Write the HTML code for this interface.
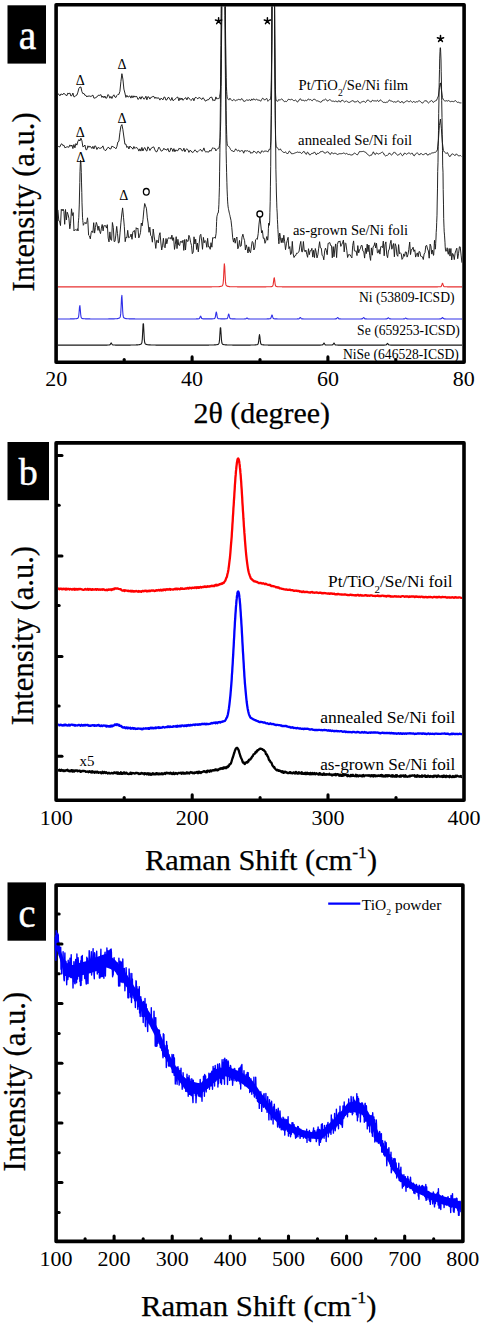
<!DOCTYPE html>
<html><head><meta charset="utf-8"><title>figure</title>
<style>
html,body{margin:0;padding:0;background:#fff;width:484px;height:1324px;overflow:hidden}
svg{display:block}
text{font-family:"Liberation Serif",serif}
</style></head><body>
<svg width="484" height="1324" viewBox="0 0 484 1324">
<clipPath id="ca"><rect x="57.9" y="6.6" width="404.3" height="353.9"/></clipPath>
<g clip-path="url(#ca)" fill="none" stroke-linejoin="round">
<polyline points="57.9,93.8 58.9,94.3 59.9,95.8 60.9,94.0 61.9,94.3 62.9,94.6 63.9,93.1 64.9,94.5 65.9,95.0 66.9,95.7 67.9,93.0 68.9,93.8 69.9,93.0 70.9,96.0 71.9,95.6 72.9,93.0 73.9,96.8 74.9,96.7 75.9,95.4 76.9,95.1 77.9,92.2 78.9,88.4 79.9,87.1 80.9,87.0 81.9,91.6 82.9,93.7 83.9,93.4 84.9,95.3 85.9,95.3 86.9,97.0 87.9,95.8 88.9,96.4 89.9,95.9 90.9,96.6 91.9,95.8 92.9,95.1 93.9,98.1 94.9,98.1 95.9,97.5 96.9,97.0 97.9,95.5 98.9,95.2 99.9,95.4 100.9,94.6 101.9,97.4 102.9,96.0 103.9,97.8 104.9,96.0 105.9,98.3 106.9,97.9 107.9,94.5 108.9,95.4 109.9,98.2 110.9,96.4 111.9,98.5 112.9,96.1 113.9,94.8 114.9,97.0 115.9,97.5 116.9,95.4 117.9,94.4 118.9,94.4 119.9,91.4 120.9,81.6 121.9,73.7 122.9,79.1 123.9,89.1 124.9,93.0 125.9,97.4 126.9,95.3 127.9,97.0 128.9,96.7 129.9,95.8 130.9,98.1 131.9,95.7 132.9,97.8 133.9,95.8 134.9,97.1 135.9,96.3 136.9,96.6 137.9,99.4 138.9,98.8 139.9,96.8 140.9,99.2 141.9,96.5 142.9,97.3 143.9,99.2 144.9,98.4 145.9,96.2 146.9,99.8 147.9,96.7 148.9,97.0 149.9,99.1 150.9,97.3 151.9,97.2 152.9,96.4 153.9,96.5 154.9,98.5 155.9,97.1 156.9,98.6 157.9,97.7 158.9,98.1 159.9,100.1 160.9,98.3 161.9,98.7 162.9,99.9 163.9,97.2 164.9,97.1 165.9,100.1 166.9,99.8 167.9,97.6 168.9,97.4 169.9,99.6 170.9,100.4 171.9,97.5 172.9,100.5 173.9,100.3 174.9,99.2 175.9,98.5 176.9,97.3 177.9,97.1 178.9,100.8 179.9,97.9 180.9,99.8 181.9,98.0 182.9,100.3 183.9,99.4 184.9,98.2 185.9,97.7 186.9,99.9 187.9,97.3 188.9,98.0 189.9,99.3 190.9,100.5 191.9,99.6 192.9,98.2 193.9,100.8 194.9,97.9 195.9,97.2 196.9,98.2 197.9,98.9 198.9,97.4 199.9,97.9 200.9,98.6 201.9,99.5 202.9,97.7 203.9,98.6 204.9,100.7 205.9,101.1 206.9,99.8 207.9,99.9 208.9,99.5 209.9,97.7 210.9,97.3 211.9,97.2 212.9,100.7 213.9,99.8 214.9,100.7 215.9,96.9 216.9,99.1 217.2,98.9 217.4,98.7 217.7,98.5 217.9,98.3 218.2,98.4 218.4,98.6 218.7,98.7 218.9,98.8 219.2,98.2 219.4,97.4 219.7,96.3 219.9,94.7 220.2,93.2 220.4,90.3 220.7,85.0 220.9,76.4 221.2,60.8 221.4,41.2 221.7,15.3 221.9,-16.8 222.2,-53.7 222.4,-93.4 222.7,-132.4 222.9,-166.4 223.2,-191.5 223.4,-204.2 223.7,-202.7 223.9,-187.2 224.2,-159.9 224.4,-124.4 224.7,-84.8 224.9,-45.3 225.2,-9.2 225.4,21.5 225.7,45.9 225.9,64.0 226.2,77.5 226.4,86.1 226.7,91.5 226.9,94.7 227.2,96.7 227.4,97.9 227.7,98.6 227.9,99.0 228.2,99.3 228.4,99.6 228.7,99.9 228.9,100.1 229.2,99.6 229.4,99.1 229.7,98.6 229.9,98.1 230.2,98.5 230.4,98.9 230.7,99.3 231.7,100.4 232.7,100.7 233.7,99.4 234.7,100.1 235.7,100.8 236.7,100.0 237.7,99.9 238.7,99.3 239.7,99.7 240.7,100.0 241.7,98.5 242.7,99.6 243.7,101.3 244.7,101.3 245.7,100.8 246.7,99.6 247.7,100.3 248.7,100.2 249.7,99.7 250.7,100.8 251.7,98.9 252.7,100.2 253.7,98.7 254.7,99.7 255.7,99.9 256.6,99.0 257.6,100.2 258.6,100.1 259.6,100.2 260.6,101.3 261.6,99.6 262.6,98.2 263.6,98.8 264.6,100.2 265.6,99.1 266.6,98.5 266.9,98.5 267.1,99.2 267.4,99.9 267.6,100.6 267.9,101.3 268.1,101.1 268.4,100.8 268.6,100.5 268.9,100.2 269.1,99.9 269.4,99.7 269.6,99.4 269.9,99.1 270.1,99.3 270.4,99.4 270.6,98.9 270.9,95.9 271.1,90.9 271.4,80.8 271.6,62.5 271.9,33.1 272.1,-9.0 272.4,-61.7 272.6,-118.2 272.9,-167.3 273.1,-197.6 273.4,-200.6 273.6,-175.6 273.9,-129.4 274.1,-73.2 274.4,-18.9 274.6,25.7 274.9,57.7 275.1,77.9 275.4,89.3 275.6,95.1 275.9,98.8 276.1,100.0 276.4,100.6 276.6,100.9 276.9,101.1 277.1,101.2 277.4,101.2 277.6,101.2 277.9,101.3 278.1,100.8 278.4,100.3 278.6,99.9 278.9,99.4 279.1,99.6 279.4,99.9 279.6,100.1 279.9,100.3 280.1,100.1 280.4,99.8 281.4,99.0 282.4,99.4 283.4,100.8 284.4,101.6 285.4,101.3 286.4,101.6 287.4,100.7 288.4,99.2 289.4,99.5 290.4,99.8 291.4,99.3 292.4,99.6 293.4,100.5 294.4,100.6 295.4,100.0 296.4,100.7 297.4,102.1 298.4,101.3 299.4,99.5 300.4,98.7 301.4,100.3 302.4,100.3 303.4,100.0 304.4,101.1 305.4,100.3 306.4,100.7 307.4,100.2 308.4,98.9 309.4,99.8 310.4,99.5 311.4,100.3 312.4,100.7 313.4,99.4 314.4,99.0 315.4,100.0 316.4,100.8 317.4,100.8 318.4,101.2 319.4,101.6 320.4,102.2 321.4,102.0 322.4,100.5 323.4,100.1 324.4,100.0 325.4,99.1 326.4,99.7 327.4,101.1 328.4,100.5 329.4,99.7 330.4,100.0 331.4,100.9 332.4,101.2 333.4,101.1 334.4,101.6 335.4,101.1 336.4,101.2 337.4,102.2 338.4,100.8 339.4,100.9 340.4,102.2 341.4,100.6 342.4,100.1 343.4,101.1 344.4,102.0 345.4,101.5 346.4,100.8 347.4,101.8 348.4,102.3 349.4,102.4 350.4,101.8 351.4,101.2 352.4,100.7 353.4,100.8 354.4,102.1 355.4,101.9 356.4,101.7 357.4,100.9 358.4,101.3 359.4,102.8 360.4,103.0 361.4,102.1 362.4,101.7 363.4,101.3 364.4,101.5 365.4,102.6 366.4,101.5 367.4,100.0 368.4,100.2 369.4,101.1 370.4,101.8 371.4,101.7 372.4,100.2 373.4,100.8 374.4,100.9 375.4,100.9 376.4,101.1 377.4,100.2 378.4,101.5 379.4,101.1 380.4,99.8 381.4,100.6 382.4,101.7 383.4,102.4 384.4,102.3 385.4,102.6 386.4,102.2 387.4,102.2 388.4,101.4 389.4,99.9 390.4,100.8 391.4,101.0 392.4,101.4 393.4,102.1 394.4,101.7 395.4,102.1 396.4,102.2 397.4,101.1 398.4,100.8 399.4,101.9 400.4,102.9 401.4,101.6 402.4,101.6 403.4,103.1 404.4,102.4 405.4,101.7 406.4,101.0 407.4,100.9 408.4,101.6 409.4,101.7 410.4,100.8 411.4,101.5 412.4,102.5 413.4,101.4 414.4,101.9 415.4,102.3 416.4,101.7 417.4,101.9 418.4,101.1 419.4,100.8 420.4,101.5 421.4,102.3 422.4,103.3 423.4,102.0 424.4,101.1 425.4,100.8 426.4,100.7 427.4,102.1 428.4,103.0 429.4,102.3 430.4,101.1 431.4,100.5 432.4,101.1 433.4,102.5 434.4,101.4 435.4,100.9 436.4,100.5 437.4,98.4 438.4,96.0 439.4,87.6 440.4,82.9 441.4,89.4 442.4,97.5 443.4,99.8 444.4,100.7 445.4,101.0 446.4,100.7 447.4,101.1 448.4,100.5 449.4,101.1 450.4,101.7 451.4,101.4 452.4,101.4 453.4,101.7 454.4,101.2 455.4,100.6 456.4,101.5 457.4,102.4 458.4,102.2 459.4,102.7 460.4,102.9 461.4,102.9" stroke="#1a1a1a" stroke-width="0.95"/>
<polyline points="57.9,145.8 58.9,146.8 59.9,146.9 60.9,144.4 61.9,143.8 62.9,145.6 63.9,145.2 64.9,147.8 65.9,147.3 66.9,146.9 67.9,146.8 68.9,147.3 69.9,144.9 70.9,146.3 71.9,145.0 72.9,148.6 73.9,144.5 74.9,147.8 75.9,143.6 76.9,145.1 77.9,141.3 78.9,139.6 79.9,141.0 80.9,138.2 81.9,140.7 82.9,146.9 83.9,146.3 84.9,145.0 85.9,149.7 86.9,149.7 87.9,145.8 88.9,147.4 89.9,146.1 90.9,147.0 91.9,148.5 92.9,146.3 93.9,148.9 94.9,145.8 95.9,146.4 96.9,149.5 97.9,147.6 98.9,147.7 99.9,148.5 100.9,148.0 101.9,147.5 102.9,145.9 103.9,149.2 104.9,150.4 105.9,150.4 106.9,148.9 107.9,147.4 108.9,147.5 109.9,149.0 110.9,148.9 111.9,146.1 112.9,146.7 113.9,147.2 114.9,147.7 115.9,148.8 116.9,146.5 117.9,142.0 118.9,141.2 119.9,132.6 120.9,126.3 121.9,124.6 122.9,129.7 123.9,137.0 124.9,144.2 125.9,144.1 126.9,147.5 127.9,146.3 128.9,149.0 129.9,146.0 130.9,147.3 131.9,147.7 132.9,149.2 133.9,146.5 134.9,148.5 135.9,147.4 136.9,147.8 137.9,148.7 138.9,151.1 139.9,148.8 140.9,151.1 141.9,147.4 142.9,151.0 143.9,148.4 144.9,147.6 145.9,150.3 146.9,151.1 147.9,146.8 148.9,148.1 149.9,150.5 150.9,148.5 151.9,148.0 152.9,146.9 153.9,147.1 154.9,149.9 155.9,151.7 156.9,151.8 157.9,149.4 158.9,147.1 159.9,148.6 160.9,150.8 161.9,151.1 162.9,150.2 163.9,148.2 164.9,149.7 165.9,149.4 166.9,150.2 167.9,148.4 168.9,151.7 169.9,151.5 170.9,148.0 171.9,148.7 172.9,151.5 173.9,148.6 174.9,151.8 175.9,149.8 176.9,150.7 177.9,150.7 178.9,148.4 179.9,148.8 180.9,148.6 181.9,150.7 182.9,150.8 183.9,148.2 184.9,151.8 185.9,149.6 186.9,148.8 187.9,149.7 188.9,152.4 189.9,150.4 190.9,150.7 191.9,152.2 192.9,152.4 193.9,151.5 194.9,149.8 195.9,150.7 196.9,152.2 197.9,151.7 198.9,150.7 199.9,149.6 200.9,149.7 201.9,151.4 202.9,150.6 203.9,147.9 204.9,151.2 205.9,152.1 206.9,151.6 207.9,152.0 208.9,152.0 209.9,150.1 210.9,151.2 211.9,149.1 212.9,147.6 213.9,148.6 214.9,148.2 215.9,150.9 216.9,149.4 217.2,149.2 217.4,148.9 217.7,148.6 217.9,148.4 218.2,148.4 218.4,148.3 218.7,148.3 218.9,148.1 219.2,147.1 219.4,145.7 219.7,143.8 219.9,140.9 220.2,137.4 220.4,131.5 220.7,121.9 220.9,107.5 221.2,86.5 221.4,58.4 221.7,22.8 221.9,-19.7 222.2,-67.7 222.4,-117.7 222.7,-165.8 222.9,-207.1 223.2,-237.0 223.4,-252.1 223.7,-250.4 223.9,-232.2 224.2,-199.7 224.4,-156.7 224.7,-107.9 224.9,-58.0 225.2,-11.0 225.4,30.4 225.7,64.5 225.9,91.1 226.2,110.6 226.4,124.8 226.7,134.5 226.9,140.8 227.2,143.8 227.4,145.2 227.7,145.8 227.9,145.8 228.2,146.2 228.4,146.4 228.7,146.5 228.9,146.5 229.2,146.9 229.4,147.3 229.7,147.7 229.9,148.1 230.2,148.6 230.4,149.2 230.7,149.7 231.7,150.8 232.7,150.8 233.7,152.0 234.7,150.5 235.7,148.8 236.7,150.3 237.7,150.9 238.7,150.0 239.7,151.6 240.7,151.1 241.7,150.5 242.7,150.8 243.7,153.2 244.7,150.6 245.7,150.8 246.7,151.0 247.7,150.7 248.7,151.5 249.7,151.1 250.7,153.3 251.7,152.7 252.7,152.9 253.7,151.1 254.7,151.6 255.7,152.4 256.6,153.4 257.6,151.5 258.6,151.4 259.6,153.0 260.6,153.3 261.6,150.9 262.6,151.2 263.6,152.1 264.6,150.9 265.6,151.1 266.6,151.1 266.9,151.0 267.1,151.3 267.4,151.5 267.6,151.8 267.9,152.1 268.1,151.5 268.4,150.9 268.6,150.2 268.9,149.6 269.1,149.7 269.4,149.7 269.6,149.7 269.9,149.7 270.1,148.9 270.4,147.6 270.6,145.2 270.9,140.9 271.1,132.0 271.4,115.5 271.6,87.6 271.9,45.4 272.1,-11.9 272.4,-80.2 272.6,-150.6 272.9,-210.3 273.1,-246.0 273.4,-249.3 273.6,-219.5 273.9,-163.7 274.1,-94.6 274.4,-25.1 274.6,34.8 274.9,80.1 275.1,110.7 275.4,129.3 275.6,139.6 275.9,144.0 276.1,146.2 276.4,147.0 276.6,147.3 276.9,147.3 277.1,147.6 277.4,147.8 277.6,148.0 277.9,148.2 278.1,148.7 278.4,149.2 278.6,149.7 278.9,150.2 279.1,150.0 279.4,149.7 279.6,149.5 279.9,149.2 280.1,149.1 280.4,148.9 281.4,150.6 282.4,151.5 283.4,152.0 284.4,153.0 285.4,151.8 286.4,152.7 287.4,154.0 288.4,152.8 289.4,151.0 290.4,151.9 291.4,153.7 292.4,153.7 293.4,153.6 294.4,153.2 295.4,152.8 296.4,152.5 297.4,152.0 298.4,152.4 299.4,152.3 300.4,152.4 301.4,153.5 302.4,152.9 303.4,151.5 304.4,151.7 305.4,153.6 306.4,154.3 307.4,152.1 308.4,152.8 309.4,154.8 310.4,154.8 311.4,153.6 312.4,153.4 313.4,153.3 314.4,151.9 315.4,153.2 316.4,154.9 317.4,153.3 318.4,153.5 319.4,153.0 320.4,151.7 321.4,151.6 322.4,151.3 323.4,151.7 324.4,153.0 325.4,153.3 326.4,152.1 327.4,151.8 328.4,152.1 329.4,153.8 330.4,154.5 331.4,152.7 332.4,152.8 333.4,153.9 334.4,153.3 335.4,153.3 336.4,153.8 337.4,154.5 338.4,154.1 339.4,153.7 340.4,153.7 341.4,153.7 342.4,153.5 343.4,153.0 344.4,153.3 345.4,154.0 346.4,153.4 347.4,154.0 348.4,154.5 349.4,154.3 350.4,154.8 351.4,155.0 352.4,155.0 353.4,153.8 354.4,153.1 355.4,153.5 356.4,154.4 357.4,154.9 358.4,153.5 359.4,151.6 360.4,151.6 361.4,151.6 362.4,151.5 363.4,151.3 364.4,151.8 365.4,152.0 366.4,153.1 367.4,154.3 368.4,155.0 369.4,155.8 370.4,155.3 371.4,155.3 372.4,153.6 373.4,151.8 374.4,154.0 375.4,154.6 376.4,152.9 377.4,153.5 378.4,154.1 379.4,153.6 380.4,153.3 381.4,152.6 382.4,152.1 383.4,152.9 384.4,155.0 385.4,155.9 386.4,155.5 387.4,155.4 388.4,154.4 389.4,152.9 390.4,154.2 391.4,155.0 392.4,154.4 393.4,152.9 394.4,151.9 395.4,153.0 396.4,154.2 397.4,155.1 398.4,155.1 399.4,154.0 400.4,153.1 401.4,154.4 402.4,155.8 403.4,155.0 404.4,153.1 405.4,153.4 406.4,154.3 407.4,153.7 408.4,153.0 409.4,153.1 410.4,154.0 411.4,153.4 412.4,153.3 413.4,155.3 414.4,155.8 415.4,154.1 416.4,153.3 417.4,153.0 418.4,153.8 419.4,155.1 420.4,153.7 421.4,153.5 422.4,154.6 423.4,154.7 424.4,154.1 425.4,153.5 426.4,153.4 427.4,155.1 428.4,155.0 429.4,153.8 430.4,154.0 431.4,153.2 432.4,152.9 433.4,152.8 434.4,152.4 435.4,152.3 436.4,151.5 437.4,149.9 438.4,140.4 439.4,125.5 440.4,119.0 441.4,128.7 442.4,142.7 443.4,150.7 444.4,152.0 445.4,152.9 446.4,153.3 447.4,152.6 448.4,154.5 449.4,156.5 450.4,156.3 451.4,154.4 452.4,153.9 453.4,154.3 454.4,155.3 455.4,155.3 456.4,153.8 457.4,154.8 458.4,155.9 459.4,155.8 460.4,155.5 461.4,156.4" stroke="#1a1a1a" stroke-width="0.95"/>
<polyline points="57.9,209.9 58.8,220.9 59.6,221.1 60.5,225.6 61.3,209.3 62.2,210.8 63.0,209.0 63.9,211.3 64.7,224.3 65.5,209.5 66.4,219.9 67.2,212.2 68.1,214.6 68.9,218.3 69.8,228.8 70.6,223.3 71.5,208.8 72.3,215.6 73.2,212.6 74.0,231.0 74.3,230.6 74.5,230.2 74.8,229.8 75.0,229.7 75.3,229.7 75.5,229.8 75.8,229.8 76.0,230.0 76.3,230.2 76.5,230.4 76.8,229.9 77.0,229.3 77.3,228.7 77.5,228.8 77.8,230.1 78.0,231.0 78.3,223.1 78.5,220.8 78.8,217.3 79.0,212.0 79.3,204.1 79.5,194.0 79.8,182.6 80.0,171.6 80.3,164.2 80.5,160.3 80.8,161.0 81.0,165.0 81.3,172.5 81.5,182.1 81.8,192.6 82.0,202.8 82.3,211.1 82.5,217.2 82.8,220.6 83.0,222.6 83.3,225.3 83.5,224.9 83.8,224.4 84.0,223.7 84.3,223.1 84.5,222.8 84.8,222.5 85.0,222.2 85.3,222.7 85.5,223.3 85.8,223.9 86.0,224.0 86.3,223.3 86.5,222.6 86.8,221.8 87.0,220.5 87.3,219.2 87.5,217.8 87.8,220.5 88.6,235.2 89.5,236.0 90.3,238.9 91.2,232.6 92.0,230.9 92.9,232.6 93.7,222.7 94.6,233.1 95.4,227.5 96.3,222.4 97.1,224.7 98.0,230.4 98.8,226.1 99.7,231.3 100.5,233.6 101.4,228.2 102.2,224.5 103.1,230.9 103.9,225.7 104.8,225.7 105.6,225.7 106.5,228.1 107.3,224.7 108.2,238.1 109.0,241.9 109.9,231.9 110.7,239.7 111.6,240.3 112.4,222.5 113.3,227.5 114.1,241.5 115.0,241.3 115.8,235.1 116.7,226.4 117.5,233.6 118.4,243.0 119.2,242.5 120.1,232.2 120.9,222.8 121.8,214.0 122.6,207.9 123.5,217.3 124.3,226.3 125.2,241.7 126.0,237.1 126.9,237.7 127.7,230.3 128.6,237.7 129.4,237.3 130.3,236.7 131.1,234.0 132.0,239.3 132.8,232.2 133.7,230.9 134.5,230.5 135.4,237.7 136.2,227.7 137.1,229.0 137.9,228.2 138.8,237.9 139.6,235.8 140.5,232.6 141.3,223.0 142.2,225.8 143.0,219.5 143.9,209.7 144.7,203.5 145.6,206.2 146.4,208.2 147.3,217.8 148.1,223.1 149.0,232.3 149.8,227.2 150.7,235.4 151.5,236.3 152.4,242.2 153.2,229.0 154.1,236.1 154.9,241.2 155.8,248.4 156.6,240.3 157.5,240.6 158.3,243.0 159.2,235.4 160.0,232.7 160.9,243.0 161.7,250.0 162.6,245.2 163.4,238.3 164.3,246.9 165.1,247.8 166.0,238.5 166.8,243.8 167.7,239.3 168.5,237.7 169.4,238.3 170.2,237.5 171.1,239.2 171.9,235.1 172.8,240.5 173.6,237.7 174.5,249.4 175.3,244.4 176.2,236.7 177.0,248.6 177.9,239.3 178.7,245.0 179.6,245.6 180.4,241.5 181.3,241.3 182.1,242.8 183.0,240.2 183.8,250.4 184.7,239.5 185.5,250.0 186.4,239.4 187.2,241.2 188.1,241.3 188.9,235.3 189.8,237.8 190.6,242.3 191.5,245.4 192.3,253.7 193.2,252.1 194.0,236.8 194.9,244.0 195.7,239.2 196.6,249.5 197.4,243.0 198.3,251.9 199.1,243.8 200.0,235.7 200.8,234.3 201.7,241.0 202.5,249.3 203.4,237.4 204.2,242.8 205.1,240.5 205.9,241.6 206.8,247.3 207.6,238.3 208.5,246.9 209.3,246.6 210.2,249.3 211.0,242.7 211.9,247.2 212.7,237.6 213.6,238.1 214.4,237.2 215.3,238.3 216.1,233.4 216.4,227.5 216.6,221.6 216.9,216.7 217.1,215.8 217.4,214.8 217.6,213.4 217.9,213.4 218.1,213.2 218.4,212.0 218.6,209.3 218.9,204.3 219.1,197.3 219.4,187.8 219.6,171.8 219.9,152.5 220.1,129.8 220.4,103.9 220.6,76.2 220.9,45.6 221.1,13.6 221.4,-18.0 221.6,-49.0 221.9,-77.7 222.1,-104.5 222.4,-126.4 222.6,-141.9 222.9,-149.8 223.1,-149.5 223.4,-141.5 223.6,-126.3 223.9,-104.7 224.1,-78.2 224.4,-48.2 224.6,-16.5 224.9,15.5 225.1,46.5 225.4,75.6 225.6,99.2 225.9,126.4 226.1,150.2 226.4,163.7 226.6,172.3 226.9,182.7 227.1,189.9 227.4,196.2 227.6,201.1 227.9,204.8 228.1,206.9 228.4,208.5 228.6,209.8 228.9,210.9 229.1,212.1 229.4,213.2 229.6,214.4 229.9,215.3 230.1,216.4 231.0,220.4 231.8,227.5 232.7,237.8 233.5,242.1 234.4,238.0 235.2,243.2 236.1,238.6 236.9,237.0 237.8,248.8 238.6,247.1 239.5,240.4 240.3,246.4 241.2,245.9 242.0,237.1 242.9,234.2 243.7,237.8 244.6,240.7 245.4,250.0 246.3,244.9 247.1,248.2 248.0,253.0 248.8,246.8 249.7,251.6 250.5,252.7 251.4,246.9 252.2,241.5 253.1,242.4 253.9,250.0 254.8,247.9 255.6,239.7 256.5,238.8 257.3,239.4 258.2,233.6 259.0,224.1 259.9,216.8 260.7,224.0 261.6,232.9 262.4,230.6 263.3,238.3 264.1,237.9 265.0,243.3 265.8,241.1 266.7,236.9 266.9,236.5 267.2,237.5 267.4,238.9 267.7,240.2 267.9,238.9 268.2,233.9 268.4,228.7 268.7,223.2 268.9,224.7 269.2,225.4 269.4,225.1 269.7,220.8 269.9,212.7 270.2,201.7 270.4,186.8 270.7,166.7 270.9,141.4 271.2,112.0 271.4,78.6 271.7,41.4 271.9,2.0 272.2,-38.2 272.4,-76.7 272.7,-109.1 272.9,-132.5 273.2,-142.0 273.4,-139.4 273.7,-124.8 273.9,-101.0 274.2,-69.8 274.4,-33.1 274.7,6.6 274.9,47.8 275.2,86.3 275.4,120.6 275.7,148.0 275.9,169.2 276.2,182.5 276.4,193.0 276.7,202.1 276.9,208.5 277.2,212.9 277.4,219.3 277.7,224.8 277.9,229.5 278.2,233.8 278.4,237.8 278.7,241.6 278.9,243.8 279.2,240.3 279.4,236.7 279.7,233.0 279.9,234.0 280.2,236.0 280.4,238.1 281.3,242.7 282.1,237.9 283.0,242.7 283.8,235.2 284.7,241.8 285.5,249.7 286.4,243.8 287.2,240.5 288.1,237.3 288.9,248.7 289.8,246.6 290.6,254.6 291.5,253.5 292.3,241.4 293.2,253.9 294.0,257.5 294.9,255.7 295.7,255.6 296.6,253.1 297.4,253.3 298.3,252.6 299.1,251.1 300.0,244.9 300.8,241.4 301.7,251.7 302.5,251.8 303.4,241.5 304.2,250.1 305.1,251.8 305.9,250.0 306.8,254.4 307.6,257.3 308.5,248.7 309.3,254.7 310.2,250.7 311.1,250.8 311.9,248.3 312.8,257.1 313.6,250.3 314.5,257.6 315.3,248.5 316.2,252.2 317.0,257.9 317.9,254.7 318.7,248.2 319.6,241.7 320.4,247.8 321.3,248.2 322.1,255.2 323.0,256.2 323.8,259.8 324.7,250.8 325.5,248.1 326.4,250.8 327.2,254.7 328.1,243.3 328.9,243.2 329.8,242.5 330.6,245.5 331.5,245.7 332.3,257.8 333.2,246.6 334.0,256.8 334.9,248.1 335.7,243.9 336.6,257.6 337.4,244.5 338.3,241.5 339.1,241.9 340.0,240.9 340.8,246.4 341.7,244.5 342.5,242.9 343.4,240.1 344.2,251.9 345.1,242.8 345.9,243.6 346.8,250.4 347.6,257.5 348.5,254.7 349.3,254.7 350.2,254.8 351.0,256.5 351.9,257.9 352.7,245.5 353.6,240.9 354.4,250.8 355.3,251.2 356.1,250.8 357.0,255.6 357.8,245.6 358.7,252.9 359.5,249.9 360.4,248.7 361.2,245.5 362.1,245.5 362.9,251.1 363.8,251.8 364.6,258.1 365.5,248.1 366.3,253.6 367.2,244.1 368.0,251.7 368.9,245.0 369.7,255.7 370.6,260.4 371.4,247.9 372.3,255.2 373.1,246.7 374.0,246.0 374.8,242.7 375.7,248.0 376.5,243.2 377.4,252.8 378.2,252.8 379.1,249.5 379.9,254.1 380.8,246.6 381.6,246.6 382.5,247.6 383.3,241.1 384.2,255.8 385.0,244.7 385.9,241.9 386.7,254.6 387.6,257.7 388.4,251.0 389.3,249.1 390.1,243.9 391.0,240.3 391.8,249.2 392.7,246.2 393.5,243.5 394.4,256.8 395.2,243.7 396.1,246.4 396.9,254.8 397.8,256.3 398.6,244.6 399.5,253.7 400.3,252.9 401.2,253.5 402.0,259.4 402.9,258.1 403.7,253.9 404.6,256.3 405.4,251.9 406.3,252.0 407.1,257.1 408.0,254.5 408.8,249.4 409.7,242.0 410.5,254.6 411.4,249.5 412.2,249.4 413.1,247.2 413.9,251.5 414.8,249.8 415.6,257.1 416.5,254.4 417.3,252.9 418.2,256.8 419.0,251.5 419.9,251.9 420.7,256.2 421.6,256.5 422.4,256.8 423.3,259.5 424.1,254.0 425.0,252.6 425.8,245.9 426.7,245.4 427.5,249.0 428.4,250.9 429.2,258.2 430.1,244.1 430.9,246.1 431.8,254.1 432.6,250.1 433.5,255.4 433.7,254.9 434.0,250.1 434.2,245.3 434.5,240.3 434.7,243.5 435.0,246.5 435.2,249.2 435.5,247.8 435.7,243.3 436.0,238.0 436.2,232.4 436.5,228.1 436.7,222.4 437.0,215.2 437.2,203.0 437.5,188.1 437.7,171.6 438.0,162.3 438.2,146.7 438.5,130.3 438.7,113.6 439.0,97.4 439.2,82.5 439.5,69.6 439.7,58.9 440.0,51.4 440.2,47.6 440.5,47.9 440.7,52.1 441.0,60.0 441.2,71.2 441.5,85.0 441.7,100.7 442.0,117.5 442.2,134.3 442.5,150.6 442.7,165.9 443.0,172.2 443.2,189.5 443.5,204.9 443.7,218.7 444.0,227.2 444.2,231.8 444.5,235.1 444.7,238.0 445.0,242.8 445.2,246.8 445.5,250.2 445.7,251.2 446.0,251.4 446.2,251.3 446.5,250.9 446.7,249.9 447.0,248.9 447.2,247.8 447.5,251.1 448.3,254.3 449.2,248.5 450.0,256.1 450.9,248.5 451.7,260.0 452.6,253.4 453.4,254.6 454.3,259.6 455.1,253.1 456.0,250.2 456.8,248.2 457.7,258.7 458.5,253.7 459.4,246.8 460.2,246.9 461.1,255.1 461.9,262.7" stroke="#1a1a1a" stroke-width="0.95"/>
<polyline points="57.9,286.9 58.3,286.9 58.7,286.9 59.1,286.9 59.5,286.9 59.9,286.9 60.3,286.9 60.7,286.9 61.1,286.9 61.5,286.9 61.9,286.9 62.3,286.9 62.7,286.9 63.1,286.9 63.5,286.9 63.9,286.9 64.3,286.9 64.7,286.9 65.1,286.9 65.5,286.9 65.9,286.9 66.3,286.9 66.7,286.9 67.1,286.9 67.5,286.9 67.9,286.9 68.3,286.9 68.7,286.9 69.1,286.9 69.5,286.9 69.9,286.9 70.3,286.9 70.7,286.9 71.1,286.9 71.5,286.9 71.9,286.9 72.3,286.9 72.7,286.9 73.1,286.9 73.5,286.9 73.9,286.9 74.3,286.9 74.7,286.9 75.1,286.9 75.5,286.9 75.9,286.9 76.3,286.9 76.7,286.9 77.1,286.9 77.5,286.9 77.9,286.9 78.3,286.9 78.7,286.9 79.1,286.9 79.5,286.9 79.9,286.9 80.3,286.9 80.7,286.9 81.1,286.9 81.5,286.9 81.9,286.9 82.3,286.9 82.7,286.9 83.1,286.9 83.5,286.9 83.9,286.9 84.3,286.9 84.7,286.9 85.1,286.9 85.5,286.9 85.9,286.9 86.3,286.9 86.7,286.9 87.1,286.9 87.5,286.9 87.9,286.9 88.3,286.9 88.7,286.9 89.1,286.9 89.5,286.9 89.9,286.9 90.3,286.9 90.7,286.9 91.1,286.9 91.5,286.9 91.9,286.9 92.3,286.9 92.7,286.9 93.1,286.9 93.5,286.9 93.9,286.9 94.3,286.9 94.7,286.9 95.1,286.9 95.5,286.9 95.9,286.9 96.3,286.9 96.7,286.9 97.1,286.9 97.5,286.9 97.9,286.9 98.3,286.9 98.7,286.9 99.1,286.9 99.5,286.9 99.9,286.9 100.3,286.9 100.7,286.9 101.1,286.9 101.5,286.9 101.9,286.9 102.3,286.9 102.7,286.9 103.1,286.9 103.5,286.9 103.9,286.9 104.3,286.9 104.7,286.9 105.1,286.9 105.5,286.9 105.9,286.9 106.3,286.9 106.7,286.9 107.1,286.9 107.5,286.9 107.9,286.9 108.3,286.9 108.7,286.9 109.1,286.9 109.5,286.9 109.9,286.9 110.3,286.9 110.7,286.9 111.1,286.9 111.5,286.9 111.9,286.9 112.3,286.9 112.7,286.9 113.1,286.9 113.5,286.9 113.9,286.9 114.3,286.9 114.7,286.9 115.1,286.9 115.5,286.9 115.9,286.9 116.3,286.9 116.7,286.9 117.1,286.9 117.5,286.9 117.9,286.9 118.3,286.9 118.7,286.9 119.1,286.9 119.5,286.9 119.9,286.9 120.3,286.9 120.7,286.9 121.1,286.9 121.5,286.9 121.9,286.9 122.3,286.9 122.7,286.9 123.1,286.9 123.5,286.9 123.9,286.9 124.3,286.9 124.7,286.9 125.1,286.9 125.5,286.9 125.9,286.9 126.3,286.9 126.7,286.9 127.1,286.9 127.5,286.9 127.9,286.9 128.3,286.9 128.7,286.9 129.1,286.9 129.5,286.9 129.9,286.9 130.3,286.9 130.7,286.9 131.1,286.9 131.5,286.9 131.9,286.9 132.3,286.9 132.7,286.9 133.1,286.9 133.5,286.9 133.9,286.9 134.3,286.9 134.7,286.9 135.1,286.9 135.5,286.9 135.9,286.9 136.3,286.9 136.7,286.9 137.1,286.9 137.5,286.9 137.9,286.9 138.3,286.9 138.7,286.9 139.1,286.9 139.5,286.9 139.9,286.9 140.3,286.9 140.7,286.9 141.1,286.9 141.5,286.9 141.9,286.9 142.3,286.9 142.7,286.9 143.1,286.9 143.5,286.9 143.9,286.9 144.3,286.9 144.7,286.9 145.1,286.9 145.5,286.9 145.9,286.9 146.3,286.9 146.7,286.9 147.1,286.9 147.5,286.9 147.9,286.9 148.3,286.9 148.7,286.9 149.1,286.9 149.5,286.9 149.9,286.9 150.3,286.9 150.7,286.9 151.1,286.9 151.5,286.9 151.9,286.9 152.3,286.9 152.7,286.9 153.1,286.9 153.5,286.9 153.9,286.9 154.3,286.9 154.7,286.9 155.1,286.9 155.5,286.9 155.9,286.9 156.3,286.9 156.7,286.9 157.1,286.9 157.5,286.9 157.9,286.9 158.3,286.9 158.7,286.9 159.1,286.9 159.5,286.9 159.9,286.9 160.3,286.9 160.7,286.9 161.1,286.9 161.5,286.9 161.9,286.9 162.3,286.9 162.7,286.9 163.1,286.9 163.5,286.9 163.9,286.9 164.3,286.9 164.7,286.9 165.1,286.9 165.5,286.9 165.9,286.9 166.3,286.9 166.7,286.9 167.1,286.9 167.5,286.9 167.9,286.9 168.3,286.9 168.7,286.9 169.1,286.9 169.5,286.9 169.9,286.9 170.3,286.9 170.7,286.9 171.1,286.9 171.5,286.9 171.9,286.9 172.3,286.9 172.7,286.9 173.1,286.9 173.5,286.9 173.9,286.9 174.3,286.9 174.7,286.9 175.1,286.9 175.5,286.9 175.9,286.9 176.3,286.9 176.7,286.9 177.1,286.9 177.5,286.9 177.9,286.9 178.3,286.9 178.7,286.9 179.1,286.9 179.5,286.9 179.9,286.9 180.3,286.9 180.7,286.9 181.1,286.9 181.5,286.9 181.9,286.9 182.3,286.9 182.7,286.9 183.1,286.9 183.5,286.9 183.9,286.9 184.3,286.9 184.7,286.9 185.1,286.9 185.5,286.9 185.9,286.9 186.3,286.9 186.7,286.9 187.1,286.9 187.5,286.9 187.9,286.9 188.3,286.9 188.7,286.9 189.1,286.9 189.5,286.9 189.9,286.9 190.3,286.9 190.7,286.9 191.1,286.9 191.5,286.9 191.9,286.9 192.3,286.9 192.7,286.9 193.1,286.9 193.5,286.9 193.9,286.9 194.3,286.9 194.7,286.9 195.1,286.9 195.5,286.9 195.9,286.9 196.3,286.9 196.7,286.9 197.1,286.9 197.5,286.9 197.9,286.9 198.3,286.9 198.7,286.9 199.1,286.9 199.5,286.9 199.9,286.9 200.3,286.9 200.7,286.9 201.1,286.9 201.5,286.9 201.9,286.9 202.3,286.9 202.7,286.9 203.1,286.9 203.5,286.9 203.9,286.9 204.3,286.9 204.7,286.9 205.1,286.9 205.5,286.9 205.9,286.9 206.3,286.9 206.7,286.9 207.1,286.9 207.5,286.9 207.9,286.9 208.3,286.9 208.7,286.9 209.1,286.9 209.5,286.9 209.9,286.9 210.3,286.9 210.7,286.9 211.1,286.9 211.5,286.9 211.9,286.8 212.3,286.8 212.7,286.8 213.1,286.8 213.5,286.8 213.9,286.8 214.3,286.8 214.7,286.8 215.1,286.8 215.5,286.8 215.9,286.8 216.3,286.8 216.7,286.8 217.1,286.8 217.5,286.7 217.9,286.7 218.3,286.7 218.7,286.7 219.1,286.6 219.5,286.6 219.9,286.5 220.3,286.5 220.7,286.4 221.1,286.3 221.5,286.2 221.9,286.0 222.3,285.7 222.7,285.2 223.1,283.7 223.5,279.1 223.9,270.5 224.3,263.7 224.7,266.3 225.1,275.1 225.5,281.9 225.9,284.7 226.3,285.5 226.7,285.8 227.1,286.1 227.5,286.2 227.9,286.4 228.3,286.4 228.7,286.5 229.1,286.6 229.5,286.6 229.9,286.7 230.3,286.7 230.7,286.7 231.1,286.7 231.5,286.7 231.9,286.8 232.3,286.8 232.7,286.8 233.1,286.8 233.5,286.8 233.9,286.8 234.3,286.8 234.7,286.8 235.1,286.8 235.5,286.8 235.9,286.8 236.3,286.8 236.7,286.8 237.1,286.8 237.5,286.9 237.9,286.9 238.3,286.9 238.7,286.9 239.1,286.9 239.5,286.9 239.9,286.9 240.3,286.9 240.7,286.9 241.1,286.9 241.5,286.9 241.9,286.9 242.3,286.9 242.7,286.9 243.1,286.9 243.5,286.9 243.9,286.9 244.3,286.9 244.7,286.9 245.1,286.9 245.5,286.9 245.9,286.9 246.3,286.9 246.7,286.9 247.1,286.9 247.5,286.9 247.9,286.9 248.3,286.9 248.7,286.9 249.1,286.9 249.5,286.9 249.9,286.9 250.3,286.9 250.7,286.9 251.1,286.9 251.5,286.9 251.9,286.9 252.3,286.9 252.7,286.9 253.1,286.9 253.5,286.9 253.9,286.9 254.3,286.9 254.7,286.9 255.1,286.9 255.5,286.9 255.9,286.9 256.3,286.9 256.7,286.9 257.1,286.9 257.5,286.9 257.9,286.9 258.3,286.9 258.7,286.9 259.1,286.9 259.5,286.9 259.9,286.9 260.3,286.9 260.7,286.9 261.1,286.9 261.5,286.9 261.9,286.9 262.3,286.9 262.7,286.9 263.1,286.9 263.5,286.9 263.9,286.9 264.3,286.9 264.7,286.9 265.1,286.9 265.5,286.9 265.9,286.9 266.3,286.8 266.7,286.8 267.1,286.8 267.5,286.8 267.9,286.8 268.3,286.8 268.7,286.8 269.1,286.8 269.5,286.8 269.9,286.7 270.3,286.7 270.7,286.7 271.1,286.6 271.5,286.6 271.9,286.5 272.3,286.3 272.7,286.0 273.1,284.9 273.5,282.2 273.9,278.7 274.3,277.7 274.7,280.4 275.1,283.8 275.5,285.6 275.9,286.2 276.3,286.4 276.7,286.5 277.1,286.6 277.5,286.7 277.9,286.7 278.3,286.7 278.7,286.8 279.1,286.8 279.5,286.8 279.9,286.8 280.3,286.8 280.7,286.8 281.1,286.8 281.5,286.8 281.9,286.8 282.3,286.9 282.7,286.9 283.1,286.9 283.5,286.9 283.9,286.9 284.3,286.9 284.7,286.9 285.1,286.9 285.5,286.9 285.9,286.9 286.3,286.9 286.7,286.9 287.1,286.9 287.5,286.9 287.9,286.9 288.3,286.9 288.7,286.9 289.1,286.9 289.5,286.9 289.9,286.9 290.3,286.9 290.7,286.9 291.1,286.9 291.5,286.9 291.9,286.9 292.3,286.9 292.7,286.9 293.1,286.9 293.5,286.9 293.9,286.9 294.3,286.9 294.7,286.9 295.1,286.9 295.5,286.9 295.9,286.9 296.3,286.9 296.7,286.9 297.1,286.9 297.5,286.9 297.9,286.9 298.3,286.9 298.7,286.9 299.1,286.9 299.5,286.9 299.9,286.9 300.3,286.9 300.7,286.9 301.1,286.9 301.5,286.9 301.9,286.9 302.3,286.9 302.7,286.9 303.1,286.9 303.5,286.9 303.9,286.9 304.3,286.9 304.7,286.9 305.1,286.9 305.5,286.9 305.9,286.9 306.3,286.9 306.7,286.9 307.1,286.9 307.5,286.9 307.9,286.9 308.3,286.9 308.7,286.9 309.1,286.9 309.5,286.9 309.9,286.9 310.3,286.9 310.7,286.9 311.1,286.9 311.5,286.9 311.9,286.9 312.3,286.9 312.7,286.9 313.1,286.9 313.5,286.9 313.9,286.9 314.3,286.9 314.7,286.9 315.1,286.9 315.5,286.9 315.9,286.9 316.3,286.9 316.7,286.9 317.1,286.9 317.5,286.9 317.9,286.9 318.3,286.9 318.7,286.9 319.1,286.9 319.5,286.9 319.9,286.9 320.3,286.9 320.7,286.9 321.1,286.9 321.5,286.9 321.9,286.9 322.3,286.9 322.7,286.9 323.1,286.9 323.5,286.9 323.9,286.9 324.3,286.9 324.7,286.9 325.1,286.9 325.5,286.9 325.9,286.9 326.3,286.9 326.7,286.9 327.1,286.9 327.5,286.9 327.9,286.9 328.3,286.9 328.7,286.9 329.1,286.9 329.5,286.9 329.9,286.9 330.3,286.9 330.7,286.9 331.1,286.9 331.5,286.9 331.9,286.9 332.3,286.9 332.7,286.9 333.1,286.9 333.5,286.9 333.9,286.9 334.3,286.9 334.7,286.9 335.1,286.9 335.5,286.9 335.9,286.9 336.3,286.9 336.7,286.9 337.1,286.9 337.5,286.9 337.9,286.9 338.3,286.9 338.7,286.9 339.1,286.9 339.5,286.9 339.9,286.9 340.3,286.9 340.7,286.9 341.1,286.9 341.5,286.9 341.9,286.9 342.3,286.9 342.7,286.9 343.1,286.9 343.5,286.9 343.9,286.9 344.3,286.9 344.7,286.9 345.1,286.9 345.5,286.9 345.9,286.9 346.3,286.9 346.7,286.9 347.1,286.9 347.5,286.9 347.9,286.9 348.3,286.9 348.7,286.9 349.1,286.9 349.5,286.9 349.9,286.9 350.3,286.9 350.7,286.9 351.1,286.9 351.5,286.9 351.9,286.9 352.3,286.9 352.7,286.9 353.1,286.9 353.5,286.9 353.9,286.9 354.3,286.9 354.7,286.9 355.1,286.9 355.5,286.9 355.9,286.9 356.3,286.9 356.7,286.9 357.1,286.9 357.5,286.9 357.9,286.9 358.3,286.9 358.7,286.9 359.1,286.9 359.5,286.9 359.9,286.9 360.3,286.9 360.7,286.9 361.1,286.9 361.5,286.9 361.9,286.9 362.3,286.9 362.7,286.9 363.1,286.9 363.5,286.9 363.9,286.9 364.3,286.9 364.7,286.9 365.1,286.9 365.5,286.9 365.9,286.9 366.3,286.9 366.7,286.9 367.1,286.9 367.5,286.9 367.9,286.9 368.3,286.9 368.7,286.9 369.1,286.9 369.5,286.9 369.9,286.9 370.3,286.9 370.7,286.9 371.1,286.9 371.5,286.9 371.9,286.9 372.3,286.9 372.7,286.9 373.1,286.9 373.5,286.9 373.9,286.9 374.3,286.9 374.7,286.9 375.1,286.9 375.5,286.9 375.9,286.9 376.3,286.9 376.7,286.9 377.1,286.9 377.5,286.9 377.9,286.9 378.3,286.9 378.7,286.9 379.1,286.9 379.5,286.9 379.9,286.9 380.3,286.9 380.7,286.9 381.1,286.9 381.5,286.9 381.9,286.9 382.3,286.9 382.7,286.9 383.1,286.9 383.5,286.9 383.9,286.9 384.3,286.9 384.7,286.9 385.1,286.9 385.5,286.9 385.9,286.9 386.3,286.9 386.7,286.9 387.1,286.9 387.5,286.9 387.9,286.9 388.3,286.9 388.7,286.9 389.1,286.9 389.5,286.9 389.9,286.9 390.3,286.9 390.7,286.9 391.1,286.9 391.5,286.9 391.9,286.9 392.3,286.9 392.7,286.9 393.1,286.9 393.5,286.9 393.9,286.9 394.3,286.9 394.7,286.9 395.1,286.9 395.5,286.9 395.9,286.9 396.3,286.9 396.7,286.9 397.1,286.9 397.5,286.9 397.9,286.9 398.3,286.9 398.7,286.9 399.1,286.9 399.5,286.9 399.9,286.9 400.3,286.9 400.7,286.9 401.1,286.9 401.5,286.9 401.9,286.9 402.3,286.9 402.7,286.9 403.1,286.9 403.5,286.9 403.9,286.9 404.3,286.9 404.7,286.9 405.1,286.9 405.5,286.9 405.9,286.9 406.3,286.9 406.7,286.9 407.1,286.9 407.5,286.9 407.9,286.9 408.3,286.9 408.7,286.9 409.1,286.9 409.5,286.9 409.9,286.9 410.3,286.9 410.7,286.9 411.1,286.9 411.5,286.9 411.9,286.9 412.3,286.9 412.7,286.9 413.1,286.9 413.5,286.9 413.9,286.9 414.3,286.9 414.7,286.9 415.1,286.9 415.5,286.9 415.9,286.9 416.3,286.9 416.7,286.9 417.1,286.9 417.5,286.9 417.9,286.9 418.3,286.9 418.7,286.9 419.1,286.9 419.5,286.9 419.9,286.9 420.3,286.9 420.7,286.9 421.1,286.9 421.5,286.9 421.9,286.9 422.3,286.9 422.7,286.9 423.1,286.9 423.5,286.9 423.9,286.9 424.3,286.9 424.7,286.9 425.1,286.9 425.5,286.9 425.9,286.9 426.3,286.9 426.7,286.9 427.1,286.9 427.5,286.9 427.9,286.9 428.3,286.9 428.7,286.9 429.1,286.9 429.5,286.9 429.9,286.9 430.3,286.9 430.7,286.9 431.1,286.9 431.5,286.9 431.9,286.9 432.3,286.9 432.7,286.9 433.1,286.9 433.5,286.9 433.9,286.9 434.3,286.9 434.7,286.9 435.1,286.9 435.5,286.9 435.9,286.9 436.3,286.9 436.7,286.9 437.1,286.9 437.5,286.9 437.9,286.8 438.3,286.8 438.7,286.8 439.1,286.8 439.5,286.8 439.9,286.8 440.3,286.7 440.7,286.7 441.1,286.5 441.5,285.9 441.9,284.7 442.3,283.4 442.7,283.4 443.1,284.7 443.5,285.9 443.9,286.5 444.3,286.7 444.7,286.7 445.1,286.8 445.5,286.8 445.9,286.8 446.3,286.8 446.7,286.8 447.1,286.8 447.5,286.9 447.9,286.9 448.3,286.9 448.7,286.9 449.1,286.9 449.5,286.9 449.9,286.9 450.3,286.9 450.7,286.9 451.1,286.9 451.5,286.9 451.9,286.9 452.3,286.9 452.7,286.9 453.1,286.9 453.5,286.9 453.9,286.9 454.3,286.9 454.7,286.9 455.1,286.9 455.5,286.9 455.9,286.9 456.3,286.9 456.7,286.9 457.1,286.9 457.5,286.9 457.9,286.9 458.3,286.9 458.7,286.9 459.1,286.9 459.5,286.9 459.9,286.9 460.3,286.9 460.7,286.9 461.1,286.9 461.5,286.9 461.9,286.9 462.3,286.9" stroke="#e83030" stroke-width="1.1"/>
<polyline points="57.9,319.0 58.3,319.0 58.7,319.0 59.1,319.0 59.5,319.0 59.9,319.0 60.3,319.0 60.7,319.0 61.1,319.0 61.5,319.0 61.9,319.0 62.3,319.0 62.7,319.0 63.1,319.0 63.5,319.0 63.9,319.0 64.3,319.0 64.7,319.0 65.1,319.0 65.5,319.0 65.9,319.0 66.3,319.0 66.7,319.0 67.1,319.0 67.5,319.0 67.9,319.0 68.3,319.0 68.7,319.0 69.1,319.0 69.5,319.0 69.9,319.0 70.3,318.9 70.7,318.9 71.1,318.9 71.5,318.9 71.9,318.9 72.3,318.9 72.7,318.9 73.1,318.9 73.5,318.9 73.9,318.9 74.3,318.9 74.7,318.8 75.1,318.8 75.5,318.8 75.9,318.7 76.3,318.7 76.7,318.6 77.1,318.5 77.5,318.4 77.9,318.2 78.3,317.7 78.7,316.1 79.1,312.2 79.5,307.1 79.9,305.6 80.3,309.5 80.7,314.5 81.1,317.1 81.5,318.0 81.9,318.3 82.3,318.5 82.7,318.6 83.1,318.6 83.5,318.7 83.9,318.8 84.3,318.8 84.7,318.8 85.1,318.8 85.5,318.9 85.9,318.9 86.3,318.9 86.7,318.9 87.1,318.9 87.5,318.9 87.9,318.9 88.3,318.9 88.7,318.9 89.1,318.9 89.5,318.9 89.9,318.9 90.3,319.0 90.7,319.0 91.1,319.0 91.5,319.0 91.9,319.0 92.3,319.0 92.7,319.0 93.1,319.0 93.5,319.0 93.9,319.0 94.3,319.0 94.7,319.0 95.1,319.0 95.5,319.0 95.9,319.0 96.3,319.0 96.7,319.0 97.1,319.0 97.5,319.0 97.9,319.0 98.3,319.0 98.7,319.0 99.1,319.0 99.5,319.0 99.9,319.0 100.3,319.0 100.7,319.0 101.1,319.0 101.5,319.0 101.9,319.0 102.3,319.0 102.7,319.0 103.1,319.0 103.5,319.0 103.9,319.0 104.3,319.0 104.7,319.0 105.1,319.0 105.5,319.0 105.9,319.0 106.3,319.0 106.7,319.0 107.1,319.0 107.5,319.0 107.9,319.0 108.3,319.0 108.7,318.9 109.1,318.9 109.5,318.9 109.9,318.9 110.3,318.9 110.7,318.9 111.1,318.9 111.5,318.9 111.9,318.9 112.3,318.9 112.7,318.9 113.1,318.9 113.5,318.9 113.9,318.9 114.3,318.9 114.7,318.8 115.1,318.8 115.5,318.8 115.9,318.8 116.3,318.7 116.7,318.7 117.1,318.7 117.5,318.6 117.9,318.5 118.3,318.4 118.7,318.3 119.1,318.2 119.5,317.9 119.9,317.6 120.3,316.7 120.7,313.9 121.1,307.0 121.5,298.0 121.9,295.4 122.3,302.3 122.7,311.0 123.1,315.7 123.5,317.3 123.9,317.8 124.3,318.0 124.7,318.2 125.1,318.4 125.5,318.5 125.9,318.6 126.3,318.6 126.7,318.7 127.1,318.7 127.5,318.8 127.9,318.8 128.3,318.8 128.7,318.8 129.1,318.9 129.5,318.9 129.9,318.9 130.3,318.9 130.7,318.9 131.1,318.9 131.5,318.9 131.9,318.9 132.3,318.9 132.7,318.9 133.1,318.9 133.5,318.9 133.9,318.9 134.3,318.9 134.7,318.9 135.1,319.0 135.5,319.0 135.9,319.0 136.3,319.0 136.7,319.0 137.1,319.0 137.5,319.0 137.9,319.0 138.3,319.0 138.7,319.0 139.1,319.0 139.5,319.0 139.9,319.0 140.3,319.0 140.7,319.0 141.1,319.0 141.5,319.0 141.9,319.0 142.3,319.0 142.7,319.0 143.1,319.0 143.5,319.0 143.9,319.0 144.3,319.0 144.7,319.0 145.1,319.0 145.5,319.0 145.9,319.0 146.3,319.0 146.7,319.0 147.1,319.0 147.5,319.0 147.9,319.0 148.3,319.0 148.7,319.0 149.1,319.0 149.5,319.0 149.9,319.0 150.3,319.0 150.7,319.0 151.1,319.0 151.5,319.0 151.9,319.0 152.3,319.0 152.7,319.0 153.1,319.0 153.5,319.0 153.9,319.0 154.3,319.0 154.7,319.0 155.1,319.0 155.5,319.0 155.9,319.0 156.3,319.0 156.7,319.0 157.1,319.0 157.5,319.0 157.9,319.0 158.3,319.0 158.7,319.0 159.1,319.0 159.5,319.0 159.9,319.0 160.3,319.0 160.7,319.0 161.1,319.0 161.5,319.0 161.9,319.0 162.3,319.0 162.7,319.0 163.1,319.0 163.5,319.0 163.9,319.0 164.3,319.0 164.7,319.0 165.1,319.0 165.5,319.0 165.9,319.0 166.3,319.0 166.7,319.0 167.1,319.0 167.5,319.0 167.9,319.0 168.3,319.0 168.7,319.0 169.1,319.0 169.5,319.0 169.9,319.0 170.3,319.0 170.7,319.0 171.1,319.0 171.5,319.0 171.9,319.0 172.3,319.0 172.7,319.0 173.1,319.0 173.5,319.0 173.9,319.0 174.3,319.0 174.7,319.0 175.1,319.0 175.5,319.0 175.9,319.0 176.3,319.0 176.7,319.0 177.1,319.0 177.5,319.0 177.9,319.0 178.3,319.0 178.7,319.0 179.1,319.0 179.5,319.0 179.9,319.0 180.3,319.0 180.7,319.0 181.1,319.0 181.5,319.0 181.9,319.0 182.3,319.0 182.7,319.0 183.1,319.0 183.5,319.0 183.9,319.0 184.3,319.0 184.7,319.0 185.1,319.0 185.5,319.0 185.9,319.0 186.3,319.0 186.7,319.0 187.1,319.0 187.5,319.0 187.9,319.0 188.3,319.0 188.7,319.0 189.1,319.0 189.5,319.0 189.9,319.0 190.3,319.0 190.7,319.0 191.1,319.0 191.5,319.0 191.9,319.0 192.3,319.0 192.7,319.0 193.1,319.0 193.5,319.0 193.9,319.0 194.3,319.0 194.7,319.0 195.1,319.0 195.5,319.0 195.9,319.0 196.3,318.9 196.7,318.9 197.1,318.9 197.5,318.9 197.9,318.9 198.3,318.9 198.7,318.8 199.1,318.7 199.5,318.4 199.9,317.6 200.3,316.5 200.7,316.2 201.1,317.0 201.5,318.1 201.9,318.6 202.3,318.8 202.7,318.8 203.1,318.9 203.5,318.9 203.9,318.9 204.3,318.9 204.7,318.9 205.1,318.9 205.5,318.9 205.9,318.9 206.3,318.9 206.7,318.9 207.1,318.9 207.5,318.9 207.9,318.9 208.3,318.9 208.7,318.9 209.1,318.9 209.5,318.9 209.9,318.9 210.3,318.9 210.7,318.9 211.1,318.9 211.5,318.9 211.9,318.9 212.3,318.9 212.7,318.8 213.1,318.8 213.5,318.8 213.9,318.7 214.3,318.6 214.7,318.4 215.1,317.8 215.5,316.1 215.9,313.4 216.3,312.0 216.7,313.4 217.1,316.1 217.5,317.8 217.9,318.4 218.3,318.6 218.7,318.7 219.1,318.7 219.5,318.8 219.9,318.8 220.3,318.8 220.7,318.9 221.1,318.9 221.5,318.9 221.9,318.9 222.3,318.9 222.7,318.9 223.1,318.9 223.5,318.9 223.9,318.9 224.3,318.9 224.7,318.9 225.1,318.9 225.5,318.8 225.9,318.8 226.3,318.8 226.7,318.7 227.1,318.6 227.5,318.1 227.9,316.9 228.3,315.0 228.7,314.0 229.1,315.0 229.5,316.9 229.9,318.1 230.3,318.6 230.7,318.7 231.1,318.8 231.5,318.8 231.9,318.9 232.3,318.9 232.7,318.9 233.1,318.9 233.5,318.9 233.9,318.9 234.3,318.9 234.7,318.9 235.1,318.9 235.5,319.0 235.9,319.0 236.3,319.0 236.7,319.0 237.1,319.0 237.5,319.0 237.9,319.0 238.3,319.0 238.7,319.0 239.1,319.0 239.5,319.0 239.9,319.0 240.3,319.0 240.7,319.0 241.1,319.0 241.5,319.0 241.9,319.0 242.3,319.0 242.7,319.0 243.1,319.0 243.5,319.0 243.9,319.0 244.3,319.0 244.7,318.9 245.1,318.9 245.5,318.9 245.9,318.8 246.3,318.5 246.7,318.1 247.1,318.0 247.5,318.3 247.9,318.7 248.3,318.9 248.7,318.9 249.1,318.9 249.5,319.0 249.9,319.0 250.3,319.0 250.7,319.0 251.1,319.0 251.5,319.0 251.9,319.0 252.3,319.0 252.7,319.0 253.1,319.0 253.5,319.0 253.9,319.0 254.3,319.0 254.7,319.0 255.1,319.0 255.5,319.0 255.9,319.0 256.3,319.0 256.7,319.0 257.1,319.0 257.5,319.0 257.9,319.0 258.3,319.0 258.7,319.0 259.1,319.0 259.5,319.0 259.9,319.0 260.3,319.0 260.7,319.0 261.1,319.0 261.5,319.0 261.9,319.0 262.3,319.0 262.7,319.0 263.1,319.0 263.5,319.0 263.9,319.0 264.3,319.0 264.7,319.0 265.1,319.0 265.5,319.0 265.9,319.0 266.3,319.0 266.7,319.0 267.1,318.9 267.5,318.9 267.9,318.9 268.3,318.9 268.7,318.9 269.1,318.9 269.5,318.8 269.9,318.8 270.3,318.7 270.7,318.4 271.1,317.6 271.5,316.1 271.9,315.0 272.3,315.4 272.7,316.9 273.1,318.1 273.5,318.6 273.9,318.8 274.3,318.8 274.7,318.9 275.1,318.9 275.5,318.9 275.9,318.9 276.3,318.9 276.7,318.9 277.1,318.9 277.5,319.0 277.9,319.0 278.3,319.0 278.7,319.0 279.1,319.0 279.5,319.0 279.9,319.0 280.3,319.0 280.7,319.0 281.1,319.0 281.5,319.0 281.9,319.0 282.3,319.0 282.7,319.0 283.1,319.0 283.5,319.0 283.9,319.0 284.3,319.0 284.7,319.0 285.1,319.0 285.5,319.0 285.9,319.0 286.3,319.0 286.7,319.0 287.1,319.0 287.5,319.0 287.9,319.0 288.3,319.0 288.7,319.0 289.1,319.0 289.5,319.0 289.9,319.0 290.3,319.0 290.7,319.0 291.1,319.0 291.5,319.0 291.9,319.0 292.3,319.0 292.7,319.0 293.1,319.0 293.5,319.0 293.9,319.0 294.3,319.0 294.7,319.0 295.1,319.0 295.5,319.0 295.9,319.0 296.3,319.0 296.7,319.0 297.1,319.0 297.5,318.9 297.9,318.9 298.3,318.9 298.7,318.9 299.1,318.7 299.5,318.4 299.9,317.8 300.3,317.5 300.7,317.8 301.1,318.4 301.5,318.7 301.9,318.9 302.3,318.9 302.7,318.9 303.1,318.9 303.5,319.0 303.9,319.0 304.3,319.0 304.7,319.0 305.1,319.0 305.5,319.0 305.9,319.0 306.3,319.0 306.7,319.0 307.1,319.0 307.5,319.0 307.9,319.0 308.3,319.0 308.7,319.0 309.1,319.0 309.5,319.0 309.9,319.0 310.3,319.0 310.7,319.0 311.1,319.0 311.5,319.0 311.9,319.0 312.3,319.0 312.7,319.0 313.1,319.0 313.5,319.0 313.9,319.0 314.3,319.0 314.7,319.0 315.1,319.0 315.5,319.0 315.9,319.0 316.3,319.0 316.7,319.0 317.1,319.0 317.5,319.0 317.9,319.0 318.3,319.0 318.7,319.0 319.1,319.0 319.5,319.0 319.9,319.0 320.3,319.0 320.7,319.0 321.1,319.0 321.5,319.0 321.9,319.0 322.3,319.0 322.7,319.0 323.1,319.0 323.5,319.0 323.9,319.0 324.3,319.0 324.7,319.0 325.1,319.0 325.5,319.0 325.9,319.0 326.3,319.0 326.7,319.0 327.1,319.0 327.5,319.0 327.9,319.0 328.3,319.0 328.7,319.0 329.1,319.0 329.5,319.0 329.9,319.0 330.3,319.0 330.7,319.0 331.1,319.0 331.5,319.0 331.9,319.0 332.3,319.0 332.7,319.0 333.1,319.0 333.5,319.0 333.9,319.0 334.3,319.0 334.7,319.0 335.1,318.9 335.5,318.9 335.9,318.9 336.3,318.8 336.7,318.5 337.1,318.0 337.5,317.5 337.9,317.7 338.3,318.2 338.7,318.7 339.1,318.9 339.5,318.9 339.9,318.9 340.3,318.9 340.7,319.0 341.1,319.0 341.5,319.0 341.9,319.0 342.3,319.0 342.7,319.0 343.1,319.0 343.5,319.0 343.9,319.0 344.3,319.0 344.7,319.0 345.1,319.0 345.5,319.0 345.9,319.0 346.3,319.0 346.7,319.0 347.1,319.0 347.5,319.0 347.9,319.0 348.3,319.0 348.7,319.0 349.1,319.0 349.5,319.0 349.9,319.0 350.3,319.0 350.7,319.0 351.1,319.0 351.5,319.0 351.9,319.0 352.3,319.0 352.7,319.0 353.1,319.0 353.5,319.0 353.9,319.0 354.3,319.0 354.7,319.0 355.1,319.0 355.5,319.0 355.9,319.0 356.3,319.0 356.7,319.0 357.1,319.0 357.5,319.0 357.9,319.0 358.3,319.0 358.7,319.0 359.1,319.0 359.5,319.0 359.9,319.0 360.3,319.0 360.7,319.0 361.1,318.9 361.5,318.9 361.9,318.9 362.3,318.8 362.7,318.5 363.1,318.0 363.5,317.5 363.9,317.7 364.3,318.2 364.7,318.7 365.1,318.9 365.5,318.9 365.9,318.9 366.3,318.9 366.7,319.0 367.1,319.0 367.5,319.0 367.9,319.0 368.3,319.0 368.7,319.0 369.1,319.0 369.5,319.0 369.9,319.0 370.3,319.0 370.7,319.0 371.1,319.0 371.5,319.0 371.9,319.0 372.3,319.0 372.7,319.0 373.1,319.0 373.5,319.0 373.9,319.0 374.3,319.0 374.7,319.0 375.1,319.0 375.5,319.0 375.9,319.0 376.3,319.0 376.7,319.0 377.1,319.0 377.5,319.0 377.9,319.0 378.3,319.0 378.7,319.0 379.1,319.0 379.5,319.0 379.9,319.0 380.3,319.0 380.7,319.0 381.1,319.0 381.5,319.0 381.9,319.0 382.3,319.0 382.7,319.0 383.1,319.0 383.5,319.0 383.9,319.0 384.3,319.0 384.7,319.0 385.1,319.0 385.5,319.0 385.9,318.9 386.3,318.9 386.7,318.9 387.1,318.8 387.5,318.5 387.9,318.0 388.3,317.8 388.7,318.0 389.1,318.5 389.5,318.8 389.9,318.9 390.3,318.9 390.7,318.9 391.1,319.0 391.5,319.0 391.9,319.0 392.3,319.0 392.7,319.0 393.1,319.0 393.5,319.0 393.9,319.0 394.3,319.0 394.7,319.0 395.1,319.0 395.5,319.0 395.9,319.0 396.3,319.0 396.7,319.0 397.1,319.0 397.5,319.0 397.9,319.0 398.3,319.0 398.7,319.0 399.1,319.0 399.5,319.0 399.9,319.0 400.3,319.0 400.7,319.0 401.1,319.0 401.5,319.0 401.9,319.0 402.3,319.0 402.7,319.0 403.1,319.0 403.5,318.9 403.9,318.9 404.3,318.9 404.7,318.7 405.1,318.4 405.5,318.1 405.9,318.1 406.3,318.4 406.7,318.7 407.1,318.9 407.5,318.9 407.9,318.9 408.3,319.0 408.7,319.0 409.1,319.0 409.5,319.0 409.9,319.0 410.3,319.0 410.7,319.0 411.1,319.0 411.5,319.0 411.9,319.0 412.3,319.0 412.7,319.0 413.1,319.0 413.5,319.0 413.9,319.0 414.3,319.0 414.7,319.0 415.1,319.0 415.5,319.0 415.9,319.0 416.3,319.0 416.7,319.0 417.1,319.0 417.5,319.0 417.9,319.0 418.3,319.0 418.7,319.0 419.1,319.0 419.5,319.0 419.9,319.0 420.3,319.0 420.7,319.0 421.1,319.0 421.5,319.0 421.9,319.0 422.3,319.0 422.7,319.0 423.1,319.0 423.5,319.0 423.9,319.0 424.3,319.0 424.7,319.0 425.1,319.0 425.5,319.0 425.9,319.0 426.3,319.0 426.7,319.0 427.1,319.0 427.5,319.0 427.9,319.0 428.3,319.0 428.7,319.0 429.1,319.0 429.5,319.0 429.9,319.0 430.3,319.0 430.7,319.0 431.1,319.0 431.5,319.0 431.9,319.0 432.3,319.0 432.7,319.0 433.1,319.0 433.5,319.0 433.9,319.0 434.3,319.0 434.7,319.0 435.1,319.0 435.5,319.0 435.9,319.0 436.3,319.0 436.7,319.0 437.1,319.0 437.5,319.0 437.9,319.0 438.3,319.0 438.7,319.0 439.1,319.0 439.5,319.0 439.9,318.9 440.3,318.9 440.7,318.9 441.1,318.8 441.5,318.6 441.9,318.1 442.3,317.6 442.7,317.6 443.1,318.1 443.5,318.6 443.9,318.8 444.3,318.9 444.7,318.9 445.1,318.9 445.5,319.0 445.9,319.0 446.3,319.0 446.7,319.0 447.1,319.0 447.5,319.0 447.9,319.0 448.3,319.0 448.7,319.0 449.1,319.0 449.5,319.0 449.9,319.0 450.3,319.0 450.7,319.0 451.1,319.0 451.5,319.0 451.9,319.0 452.3,319.0 452.7,319.0 453.1,319.0 453.5,319.0 453.9,319.0 454.3,319.0 454.7,319.0 455.1,319.0 455.5,319.0 455.9,319.0 456.3,319.0 456.7,319.0 457.1,319.0 457.5,319.0 457.9,319.0 458.3,319.0 458.7,319.0 459.1,319.0 459.5,319.0 459.9,319.0 460.3,319.0 460.7,319.0 461.1,319.0 461.5,319.0 461.9,319.0 462.3,319.0" stroke="#3030e8" stroke-width="1.1"/>
<polyline points="57.9,345.1 58.3,345.1 58.7,345.1 59.1,345.1 59.5,345.1 59.9,345.1 60.3,345.1 60.7,345.1 61.1,345.1 61.5,345.1 61.9,345.1 62.3,345.1 62.7,345.1 63.1,345.1 63.5,345.1 63.9,345.1 64.3,345.1 64.7,345.1 65.1,345.1 65.5,345.1 65.9,345.1 66.3,345.1 66.7,345.1 67.1,345.1 67.5,345.1 67.9,345.1 68.3,345.1 68.7,345.1 69.1,345.1 69.5,345.1 69.9,345.1 70.3,345.1 70.7,345.1 71.1,345.1 71.5,345.1 71.9,345.1 72.3,345.1 72.7,345.1 73.1,345.1 73.5,345.1 73.9,345.1 74.3,345.1 74.7,345.1 75.1,345.1 75.5,345.1 75.9,345.1 76.3,345.1 76.7,345.1 77.1,345.1 77.5,345.1 77.9,345.1 78.3,345.1 78.7,345.1 79.1,345.1 79.5,345.1 79.9,345.1 80.3,345.1 80.7,345.1 81.1,345.1 81.5,345.1 81.9,345.1 82.3,345.1 82.7,345.1 83.1,345.1 83.5,345.1 83.9,345.1 84.3,345.1 84.7,345.1 85.1,345.1 85.5,345.1 85.9,345.1 86.3,345.1 86.7,345.1 87.1,345.1 87.5,345.1 87.9,345.1 88.3,345.1 88.7,345.1 89.1,345.1 89.5,345.1 89.9,345.1 90.3,345.1 90.7,345.1 91.1,345.1 91.5,345.1 91.9,345.1 92.3,345.1 92.7,345.1 93.1,345.1 93.5,345.1 93.9,345.1 94.3,345.1 94.7,345.1 95.1,345.1 95.5,345.1 95.9,345.1 96.3,345.1 96.7,345.1 97.1,345.1 97.5,345.1 97.9,345.1 98.3,345.1 98.7,345.1 99.1,345.1 99.5,345.1 99.9,345.1 100.3,345.1 100.7,345.1 101.1,345.1 101.5,345.1 101.9,345.1 102.3,345.1 102.7,345.1 103.1,345.1 103.5,345.1 103.9,345.1 104.3,345.1 104.7,345.1 105.1,345.1 105.5,345.1 105.9,345.1 106.3,345.1 106.7,345.1 107.1,345.1 107.5,345.0 107.9,345.0 108.3,345.0 108.7,345.0 109.1,345.0 109.5,344.9 109.9,344.8 110.3,344.4 110.7,343.6 111.1,342.9 111.5,343.2 111.9,344.0 112.3,344.6 112.7,344.9 113.1,345.0 113.5,345.0 113.9,345.0 114.3,345.0 114.7,345.0 115.1,345.0 115.5,345.1 115.9,345.1 116.3,345.1 116.7,345.1 117.1,345.1 117.5,345.1 117.9,345.1 118.3,345.1 118.7,345.1 119.1,345.1 119.5,345.1 119.9,345.1 120.3,345.1 120.7,345.1 121.1,345.1 121.5,345.1 121.9,345.1 122.3,345.1 122.7,345.1 123.1,345.1 123.5,345.1 123.9,345.1 124.3,345.1 124.7,345.1 125.1,345.1 125.5,345.1 125.9,345.1 126.3,345.1 126.7,345.1 127.1,345.1 127.5,345.1 127.9,345.1 128.3,345.1 128.7,345.1 129.1,345.1 129.5,345.1 129.9,345.1 130.3,345.1 130.7,345.0 131.1,345.0 131.5,345.0 131.9,345.0 132.3,345.0 132.7,345.0 133.1,345.0 133.5,345.0 133.9,345.0 134.3,345.0 134.7,345.0 135.1,345.0 135.5,345.0 135.9,345.0 136.3,344.9 136.7,344.9 137.1,344.9 137.5,344.9 137.9,344.9 138.3,344.8 138.7,344.8 139.1,344.7 139.5,344.6 139.9,344.5 140.3,344.4 140.7,344.3 141.1,344.0 141.5,343.6 141.9,342.5 142.3,339.1 142.7,331.6 143.1,323.9 143.5,323.9 143.9,331.6 144.3,339.1 144.7,342.5 145.1,343.6 145.5,344.0 145.9,344.3 146.3,344.4 146.7,344.5 147.1,344.6 147.5,344.7 147.9,344.8 148.3,344.8 148.7,344.9 149.1,344.9 149.5,344.9 149.9,344.9 150.3,344.9 150.7,345.0 151.1,345.0 151.5,345.0 151.9,345.0 152.3,345.0 152.7,345.0 153.1,345.0 153.5,345.0 153.9,345.0 154.3,345.0 154.7,345.0 155.1,345.0 155.5,345.0 155.9,345.1 156.3,345.1 156.7,345.1 157.1,345.1 157.5,345.1 157.9,345.1 158.3,345.1 158.7,345.1 159.1,345.1 159.5,345.1 159.9,345.1 160.3,345.1 160.7,345.1 161.1,345.1 161.5,345.1 161.9,345.1 162.3,345.1 162.7,345.1 163.1,345.1 163.5,345.1 163.9,345.1 164.3,345.1 164.7,345.1 165.1,345.1 165.5,345.1 165.9,345.1 166.3,345.1 166.7,345.1 167.1,345.1 167.5,345.1 167.9,345.1 168.3,345.1 168.7,345.1 169.1,345.1 169.5,345.1 169.9,345.1 170.3,345.1 170.7,345.1 171.1,345.1 171.5,345.1 171.9,345.1 172.3,345.1 172.7,345.1 173.1,345.1 173.5,345.1 173.9,345.1 174.3,345.1 174.7,345.1 175.1,345.1 175.5,345.1 175.9,345.1 176.3,345.1 176.7,345.1 177.1,345.1 177.5,345.1 177.9,345.1 178.3,345.1 178.7,345.1 179.1,345.1 179.5,345.1 179.9,345.1 180.3,345.1 180.7,345.1 181.1,345.1 181.5,345.1 181.9,345.1 182.3,345.1 182.7,345.1 183.1,345.1 183.5,345.1 183.9,345.1 184.3,345.1 184.7,345.1 185.1,345.1 185.5,345.1 185.9,345.1 186.3,345.1 186.7,345.1 187.1,345.1 187.5,345.1 187.9,345.1 188.3,345.1 188.7,345.1 189.1,345.1 189.5,345.1 189.9,345.1 190.3,345.1 190.7,345.1 191.1,345.1 191.5,345.1 191.9,345.1 192.3,345.1 192.7,345.1 193.1,345.1 193.5,345.1 193.9,345.1 194.3,345.1 194.7,345.1 195.1,345.1 195.5,345.1 195.9,345.1 196.3,345.1 196.7,345.1 197.1,345.1 197.5,345.1 197.9,345.1 198.3,345.1 198.7,345.1 199.1,345.1 199.5,345.1 199.9,345.1 200.3,345.1 200.7,345.1 201.1,345.1 201.5,345.1 201.9,345.1 202.3,345.1 202.7,345.1 203.1,345.1 203.5,345.1 203.9,345.1 204.3,345.1 204.7,345.1 205.1,345.1 205.5,345.1 205.9,345.1 206.3,345.1 206.7,345.1 207.1,345.1 207.5,345.1 207.9,345.1 208.3,345.1 208.7,345.1 209.1,345.0 209.5,345.0 209.9,345.0 210.3,345.0 210.7,345.0 211.1,345.0 211.5,345.0 211.9,345.0 212.3,345.0 212.7,345.0 213.1,345.0 213.5,345.0 213.9,345.0 214.3,344.9 214.7,344.9 215.1,344.9 215.5,344.9 215.9,344.8 216.3,344.8 216.7,344.7 217.1,344.6 217.5,344.5 217.9,344.4 218.3,344.2 218.7,343.9 219.1,343.0 219.5,340.2 219.9,334.0 220.3,327.7 220.7,327.7 221.1,334.0 221.5,340.2 221.9,343.0 222.3,343.9 222.7,344.2 223.1,344.4 223.5,344.5 223.9,344.6 224.3,344.7 224.7,344.8 225.1,344.8 225.5,344.9 225.9,344.9 226.3,344.9 226.7,344.9 227.1,345.0 227.5,345.0 227.9,345.0 228.3,345.0 228.7,345.0 229.1,345.0 229.5,345.0 229.9,345.0 230.3,345.0 230.7,345.0 231.1,345.0 231.5,345.0 231.9,345.0 232.3,345.0 232.7,345.1 233.1,345.1 233.5,345.1 233.9,345.1 234.3,345.1 234.7,345.1 235.1,345.1 235.5,345.1 235.9,345.1 236.3,345.1 236.7,345.1 237.1,345.1 237.5,345.1 237.9,345.1 238.3,345.1 238.7,345.1 239.1,345.1 239.5,345.1 239.9,345.1 240.3,345.1 240.7,345.1 241.1,345.1 241.5,345.1 241.9,345.1 242.3,345.1 242.7,345.1 243.1,345.1 243.5,345.1 243.9,345.1 244.3,345.1 244.7,345.1 245.1,345.1 245.5,345.1 245.9,345.1 246.3,345.1 246.7,345.1 247.1,345.1 247.5,345.1 247.9,345.1 248.3,345.1 248.7,345.1 249.1,345.1 249.5,345.1 249.9,345.1 250.3,345.1 250.7,345.0 251.1,345.0 251.5,345.0 251.9,345.0 252.3,345.0 252.7,345.0 253.1,345.0 253.5,345.0 253.9,345.0 254.3,345.0 254.7,345.0 255.1,344.9 255.5,344.9 255.9,344.9 256.3,344.8 256.7,344.7 257.1,344.7 257.5,344.5 257.9,344.2 258.3,343.3 258.7,340.8 259.1,336.8 259.5,334.6 259.9,336.8 260.3,340.8 260.7,343.3 261.1,344.2 261.5,344.5 261.9,344.7 262.3,344.7 262.7,344.8 263.1,344.9 263.5,344.9 263.9,344.9 264.3,345.0 264.7,345.0 265.1,345.0 265.5,345.0 265.9,345.0 266.3,345.0 266.7,345.0 267.1,345.0 267.5,345.0 267.9,345.0 268.3,345.1 268.7,345.1 269.1,345.1 269.5,345.1 269.9,345.1 270.3,345.1 270.7,345.1 271.1,345.1 271.5,345.1 271.9,345.1 272.3,345.1 272.7,345.1 273.1,345.1 273.5,345.1 273.9,345.1 274.3,345.1 274.7,345.1 275.1,345.1 275.5,345.1 275.9,345.1 276.3,345.1 276.7,345.1 277.1,345.1 277.5,345.1 277.9,345.1 278.3,345.1 278.7,345.1 279.1,345.1 279.5,345.1 279.9,345.1 280.3,345.1 280.7,345.1 281.1,345.1 281.5,345.1 281.9,345.1 282.3,345.1 282.7,345.1 283.1,345.1 283.5,345.1 283.9,345.1 284.3,345.1 284.7,345.1 285.1,345.1 285.5,345.1 285.9,345.1 286.3,345.1 286.7,345.1 287.1,345.1 287.5,345.1 287.9,345.1 288.3,345.1 288.7,345.1 289.1,345.1 289.5,345.1 289.9,345.1 290.3,345.1 290.7,345.1 291.1,345.1 291.5,345.1 291.9,345.1 292.3,345.1 292.7,345.1 293.1,345.1 293.5,345.1 293.9,345.1 294.3,345.1 294.7,345.1 295.1,345.1 295.5,345.1 295.9,345.1 296.3,345.1 296.7,345.1 297.1,345.1 297.5,345.1 297.9,345.1 298.3,345.1 298.7,345.1 299.1,345.1 299.5,345.1 299.9,345.1 300.3,345.1 300.7,345.1 301.1,345.1 301.5,345.1 301.9,345.1 302.3,345.1 302.7,345.1 303.1,345.1 303.5,345.1 303.9,345.1 304.3,345.1 304.7,345.1 305.1,345.1 305.5,345.1 305.9,345.1 306.3,345.1 306.7,345.1 307.1,345.1 307.5,345.1 307.9,345.1 308.3,345.1 308.7,345.1 309.1,345.1 309.5,345.1 309.9,345.1 310.3,345.1 310.7,345.1 311.1,345.1 311.5,345.1 311.9,345.1 312.3,345.1 312.7,345.1 313.1,345.1 313.5,345.1 313.9,345.1 314.3,345.1 314.7,345.1 315.1,345.1 315.5,345.1 315.9,345.1 316.3,345.1 316.7,345.1 317.1,345.1 317.5,345.1 317.9,345.1 318.3,345.1 318.7,345.1 319.1,345.1 319.5,345.1 319.9,345.1 320.3,345.1 320.7,345.0 321.1,345.0 321.5,345.0 321.9,345.0 322.3,344.9 322.7,344.8 323.1,344.4 323.5,343.7 323.9,343.1 324.3,343.3 324.7,344.1 325.1,344.7 325.5,344.9 325.9,345.0 326.3,345.0 326.7,345.0 327.1,345.0 327.5,345.0 327.9,345.0 328.3,345.0 328.7,345.0 329.1,345.0 329.5,345.0 329.9,345.0 330.3,345.0 330.7,345.0 331.1,345.0 331.5,345.0 331.9,345.0 332.3,344.9 332.7,344.8 333.1,344.4 333.5,343.7 333.9,343.1 334.3,343.3 334.7,344.1 335.1,344.7 335.5,344.9 335.9,345.0 336.3,345.0 336.7,345.0 337.1,345.0 337.5,345.0 337.9,345.1 338.3,345.1 338.7,345.1 339.1,345.1 339.5,345.1 339.9,345.1 340.3,345.1 340.7,345.1 341.1,345.1 341.5,345.1 341.9,345.1 342.3,345.1 342.7,345.1 343.1,345.1 343.5,345.1 343.9,345.1 344.3,345.1 344.7,345.1 345.1,345.1 345.5,345.1 345.9,345.1 346.3,345.1 346.7,345.1 347.1,345.1 347.5,345.1 347.9,345.1 348.3,345.1 348.7,345.1 349.1,345.1 349.5,345.1 349.9,345.1 350.3,345.1 350.7,345.1 351.1,345.1 351.5,345.1 351.9,345.1 352.3,345.1 352.7,345.1 353.1,345.1 353.5,345.1 353.9,345.1 354.3,345.1 354.7,345.1 355.1,345.1 355.5,345.1 355.9,345.1 356.3,345.1 356.7,345.1 357.1,345.1 357.5,345.1 357.9,345.1 358.3,345.1 358.7,345.1 359.1,345.1 359.5,345.1 359.9,345.1 360.3,345.1 360.7,345.1 361.1,345.1 361.5,345.1 361.9,345.1 362.3,345.1 362.7,345.1 363.1,345.1 363.5,345.1 363.9,345.1 364.3,345.1 364.7,345.1 365.1,345.1 365.5,345.1 365.9,345.1 366.3,345.1 366.7,345.1 367.1,345.1 367.5,345.1 367.9,345.1 368.3,345.1 368.7,345.1 369.1,345.1 369.5,345.1 369.9,345.1 370.3,345.1 370.7,345.1 371.1,345.1 371.5,345.1 371.9,345.1 372.3,345.1 372.7,345.1 373.1,345.1 373.5,345.1 373.9,345.1 374.3,345.1 374.7,345.1 375.1,345.1 375.5,345.1 375.9,345.1 376.3,345.1 376.7,345.1 377.1,345.1 377.5,345.1 377.9,345.1 378.3,345.1 378.7,345.1 379.1,345.1 379.5,345.1 379.9,345.1 380.3,345.1 380.7,345.1 381.1,345.1 381.5,345.1 381.9,345.1 382.3,345.1 382.7,345.1 383.1,345.1 383.5,345.1 383.9,345.1 384.3,345.1 384.7,345.0 385.1,345.0 385.5,345.0 385.9,345.0 386.3,344.8 386.7,344.4 387.1,343.7 387.5,343.3 387.9,343.7 388.3,344.4 388.7,344.8 389.1,345.0 389.5,345.0 389.9,345.0 390.3,345.0 390.7,345.1 391.1,345.1 391.5,345.1 391.9,345.1 392.3,345.1 392.7,345.1 393.1,345.1 393.5,345.1 393.9,345.1 394.3,345.1 394.7,345.1 395.1,345.1 395.5,345.1 395.9,345.1 396.3,345.1 396.7,345.1 397.1,345.1 397.5,345.1 397.9,345.1 398.3,345.1 398.7,345.1 399.1,345.1 399.5,345.1 399.9,345.1 400.3,345.1 400.7,345.1 401.1,345.1 401.5,345.1 401.9,345.1 402.3,345.1 402.7,345.1 403.1,345.1 403.5,345.1 403.9,345.1 404.3,345.1 404.7,345.1 405.1,345.1 405.5,345.1 405.9,345.1 406.3,345.1 406.7,345.1 407.1,345.1 407.5,345.1 407.9,345.1 408.3,345.1 408.7,345.1 409.1,345.1 409.5,345.1 409.9,345.1 410.3,345.1 410.7,345.1 411.1,345.1 411.5,345.1 411.9,345.1 412.3,345.1 412.7,345.1 413.1,345.1 413.5,345.1 413.9,345.1 414.3,345.1 414.7,345.1 415.1,345.1 415.5,345.1 415.9,345.1 416.3,345.1 416.7,345.1 417.1,345.1 417.5,345.1 417.9,345.1 418.3,345.1 418.7,345.1 419.1,345.1 419.5,345.1 419.9,345.1 420.3,345.1 420.7,345.1 421.1,345.1 421.5,345.1 421.9,345.1 422.3,345.1 422.7,345.1 423.1,345.1 423.5,345.1 423.9,345.1 424.3,345.1 424.7,345.1 425.1,345.1 425.5,345.1 425.9,345.1 426.3,345.1 426.7,345.1 427.1,345.1 427.5,345.1 427.9,345.1 428.3,345.1 428.7,345.1 429.1,345.1 429.5,345.1 429.9,345.1 430.3,345.1 430.7,345.1 431.1,345.1 431.5,345.1 431.9,345.1 432.3,345.1 432.7,345.1 433.1,345.1 433.5,345.1 433.9,345.1 434.3,345.1 434.7,345.1 435.1,345.1 435.5,345.1 435.9,345.1 436.3,345.1 436.7,345.1 437.1,345.1 437.5,345.1 437.9,345.1 438.3,345.1 438.7,345.1 439.1,345.1 439.5,345.1 439.9,345.1 440.3,345.1 440.7,345.1 441.1,345.1 441.5,345.1 441.9,345.1 442.3,345.1 442.7,345.1 443.1,345.1 443.5,345.1 443.9,345.1 444.3,345.1 444.7,345.1 445.1,345.1 445.5,345.1 445.9,345.1 446.3,345.1 446.7,345.1 447.1,345.1 447.5,345.1 447.9,345.1 448.3,345.1 448.7,345.1 449.1,345.1 449.5,345.1 449.9,345.1 450.3,345.1 450.7,345.1 451.1,345.1 451.5,345.1 451.9,345.1 452.3,345.1 452.7,345.1 453.1,345.1 453.5,345.1 453.9,345.1 454.3,345.1 454.7,345.1 455.1,345.1 455.5,345.1 455.9,345.1 456.3,345.1 456.7,345.1 457.1,345.1 457.5,345.1 457.9,345.1 458.3,345.1 458.7,345.1 459.1,345.1 459.5,345.1 459.9,345.1 460.3,345.1 460.7,345.1 461.1,345.1 461.5,345.1 461.9,345.1 462.3,345.1" stroke="#1a1a1a" stroke-width="1.1"/>
</g>
<rect x="56.1" y="4.8" width="408.00" height="357.40" fill="none" stroke="#000" stroke-width="3.6" stroke-linejoin="round"/>
<line x1="124.2" y1="360.6" x2="124.2" y2="359.6" stroke="#000" stroke-width="3.1" stroke-linecap="round"/>
<line x1="192.1" y1="360.6" x2="192.1" y2="356.9" stroke="#000" stroke-width="3.1" stroke-linecap="round"/>
<line x1="260.0" y1="360.6" x2="260.0" y2="359.6" stroke="#000" stroke-width="3.1" stroke-linecap="round"/>
<line x1="327.9" y1="360.6" x2="327.9" y2="356.9" stroke="#000" stroke-width="3.1" stroke-linecap="round"/>
<line x1="395.8" y1="360.6" x2="395.8" y2="359.6" stroke="#000" stroke-width="3.1" stroke-linecap="round"/>
<rect x="7.5" y="5.3" width="38.5" height="58.3" fill="#000"/>
<text x="27.5" y="49.3" font-size="40" font-family="Liberation Serif, serif" fill="#fff" text-anchor="middle" textLength="17.5" lengthAdjust="spacingAndGlyphs" stroke="#fff" stroke-width="0.45">a</text>
<text x="80.2" y="85.4" font-size="14" font-family="Liberation Serif, serif" fill="#000" text-anchor="middle">Δ</text>
<text x="122" y="69.1" font-size="14" font-family="Liberation Serif, serif" fill="#000" text-anchor="middle">Δ</text>
<text x="80.2" y="136.6" font-size="14" font-family="Liberation Serif, serif" fill="#000" text-anchor="middle">Δ</text>
<text x="122" y="122.6" font-size="14" font-family="Liberation Serif, serif" fill="#000" text-anchor="middle">Δ</text>
<text x="80.8" y="162.3" font-size="14" font-family="Liberation Serif, serif" fill="#000" text-anchor="middle">Δ</text>
<text x="123.7" y="199.6" font-size="14" font-family="Liberation Serif, serif" fill="#000" text-anchor="middle">Δ</text>
<g fill="none" stroke="#000" stroke-width="1.3">
<ellipse cx="146.3" cy="191.8" rx="2.9" ry="3.3"/>
<ellipse cx="259.8" cy="214.1" rx="2.9" ry="3.1"/>
</g>
<path d="M218.60,21.00L218.60,17.70M218.60,21.00L221.74,19.98M218.60,21.00L220.54,23.67M218.60,21.00L216.66,23.67M218.60,21.00L215.46,19.98" stroke="#000" stroke-width="1.5" stroke-linecap="round" fill="none"/>
<path d="M267.40,21.00L267.40,17.70M267.40,21.00L270.54,19.98M267.40,21.00L269.34,23.67M267.40,21.00L265.46,23.67M267.40,21.00L264.26,19.98" stroke="#000" stroke-width="1.5" stroke-linecap="round" fill="none"/>
<path d="M440.50,38.80L440.50,35.50M440.50,38.80L443.64,37.78M440.50,38.80L442.44,41.47M440.50,38.80L438.56,41.47M440.50,38.80L437.36,37.78" stroke="#000" stroke-width="1.5" stroke-linecap="round" fill="none"/>
<text x="298.6" y="90.1" font-size="15" font-family="Liberation Serif, serif" fill="#000" textLength="109.6" lengthAdjust="spacingAndGlyphs">Pt/TiO<tspan dy="6.3" font-size="10">2</tspan><tspan dy="-6.3">/Se/Ni film</tspan></text>
<text x="298.1" y="145.1" font-size="15.3" font-family="Liberation Serif, serif" fill="#000" textLength="114" lengthAdjust="spacingAndGlyphs">annealed Se/Ni foil</text>
<text x="293.1" y="234.6" font-size="15.3" font-family="Liberation Serif, serif" fill="#000" textLength="114.9" lengthAdjust="spacingAndGlyphs">as-grown Se/Ni foli</text>
<text x="359.0" y="302.1" font-size="15" font-family="Liberation Serif, serif" fill="#000" textLength="95.5" lengthAdjust="spacingAndGlyphs">Ni (53809-ICSD)</text>
<text x="357.1" y="334.6" font-size="15" font-family="Liberation Serif, serif" fill="#000" textLength="102.7" lengthAdjust="spacingAndGlyphs">Se (659253-ICSD)</text>
<text x="342.9" y="358.5" font-size="15" font-family="Liberation Serif, serif" fill="#000" textLength="116" lengthAdjust="spacingAndGlyphs">NiSe (646528-ICSD)</text>
<text x="56.3" y="386" font-size="22" font-family="Liberation Serif, serif" fill="#000" text-anchor="middle">20</text>
<text x="192.10000000000002" y="386" font-size="22" font-family="Liberation Serif, serif" fill="#000" text-anchor="middle">40</text>
<text x="327.90000000000003" y="386" font-size="22" font-family="Liberation Serif, serif" fill="#000" text-anchor="middle">60</text>
<text x="463.7" y="386" font-size="22" font-family="Liberation Serif, serif" fill="#000" text-anchor="middle">80</text>
<text x="193.5" y="423.2" font-size="30" font-family="Liberation Serif, serif" fill="#000" textLength="136.5" lengthAdjust="spacingAndGlyphs" stroke="#000" stroke-width="0.25">2θ (degree)</text>
<text transform="translate(33.6,291.4) rotate(-90)" font-size="32" font-family="Liberation Serif, serif" textLength="179.0" lengthAdjust="spacingAndGlyphs" stroke="#000" stroke-width="0.25">Intensity (a.u.)</text>
<clipPath id="cb"><rect x="57.9" y="444.6" width="404.3" height="353.9"/></clipPath>
<g clip-path="url(#cb)" fill="none" stroke-linejoin="round">
<polyline points="57.9,588.5 58.4,588.6 58.9,588.9 59.4,589.2 59.9,588.7 60.4,588.6 60.9,588.8 61.4,589.3 61.9,588.7 62.4,589.3 62.9,589.2 63.4,588.7 63.9,589.1 64.4,589.0 64.9,589.0 65.4,589.6 65.9,588.7 66.4,588.6 66.9,589.5 67.4,589.0 67.9,588.8 68.4,589.0 68.9,589.0 69.4,589.6 69.9,588.9 70.4,588.9 70.9,589.2 71.4,589.2 71.9,589.6 72.4,589.5 72.9,589.0 73.4,588.9 73.9,589.5 74.4,589.7 74.9,588.7 75.4,589.4 75.9,589.6 76.4,589.4 76.9,588.9 77.4,589.5 77.9,589.5 78.4,588.9 78.9,589.4 79.4,589.0 79.9,588.8 80.4,589.1 80.9,589.1 81.4,589.2 81.9,589.4 82.4,589.6 82.9,589.8 83.4,589.8 83.9,589.8 84.4,589.6 84.9,589.1 85.4,589.0 85.9,589.5 86.4,589.4 86.9,589.5 87.4,588.9 87.9,589.0 88.4,589.8 88.9,589.5 89.4,589.6 89.9,589.0 90.4,589.3 90.9,589.8 91.4,589.5 91.9,589.9 92.4,589.1 92.9,589.4 93.4,589.7 93.9,589.4 94.4,589.7 94.9,589.5 95.4,589.1 95.9,589.1 96.4,589.9 96.9,589.1 97.4,589.2 97.9,589.3 98.4,589.7 98.9,589.8 99.4,589.5 99.9,589.5 100.4,589.8 100.9,589.3 101.4,589.4 101.9,589.7 102.4,589.8 102.9,589.2 103.4,589.3 103.9,589.3 104.4,589.9 104.9,589.9 105.4,590.2 105.9,590.1 106.4,589.6 106.9,590.1 107.4,590.3 107.9,589.7 108.4,589.4 108.9,589.8 109.4,589.7 109.9,589.5 110.4,589.4 110.9,589.4 111.4,590.1 111.9,589.2 112.4,589.6 112.9,589.1 113.4,588.9 113.9,589.3 114.4,588.6 114.9,588.4 115.4,588.5 115.9,588.6 116.4,588.4 116.9,588.7 117.4,588.3 117.9,588.5 118.4,588.8 118.9,588.8 119.4,589.2 119.9,589.2 120.4,589.1 120.9,589.3 121.4,590.2 121.9,590.3 122.4,590.7 122.9,590.5 123.4,590.5 123.9,590.2 124.4,591.0 124.9,590.3 125.4,590.7 125.9,590.4 126.4,590.7 126.9,590.6 127.4,590.8 127.9,591.1 128.4,591.0 128.9,590.7 129.4,591.2 129.9,591.2 130.4,591.3 130.9,590.6 131.4,591.2 131.9,591.5 132.4,590.9 132.9,590.8 133.4,591.5 133.9,591.1 134.4,591.1 134.9,591.6 135.4,591.2 135.9,591.0 136.4,591.0 136.9,591.2 137.4,591.6 137.9,591.3 138.4,591.7 138.9,591.0 139.4,591.2 139.9,591.6 140.4,591.5 140.9,591.4 141.4,591.8 141.9,591.1 142.4,591.0 142.9,590.8 143.4,591.3 143.9,591.0 144.4,591.2 144.9,590.7 145.4,590.6 145.9,591.0 146.4,591.3 146.9,590.8 147.4,591.4 147.9,591.0 148.4,590.8 148.9,591.2 149.4,590.6 149.9,590.9 150.4,591.1 150.9,590.8 151.4,590.5 151.9,590.3 152.4,590.7 152.9,590.3 153.4,590.5 153.9,590.6 154.4,591.0 154.9,590.7 155.4,590.5 155.9,590.8 156.4,590.2 156.9,590.2 157.4,590.5 157.9,590.3 158.4,590.0 158.9,590.1 159.4,590.5 159.9,589.9 160.4,590.3 160.9,589.6 161.4,590.5 161.9,590.2 162.4,589.8 162.9,590.4 163.4,590.2 163.9,589.4 164.4,589.6 164.9,589.8 165.4,590.3 165.9,589.4 166.4,589.2 166.9,589.5 167.4,589.2 167.9,589.5 168.4,589.6 168.9,589.5 169.4,589.1 169.9,589.0 170.4,589.7 170.9,589.3 171.4,589.3 171.9,589.3 172.4,589.5 172.9,589.7 173.4,589.5 173.9,589.4 174.4,589.0 174.9,588.8 175.4,588.7 175.9,589.4 176.4,588.6 176.9,589.0 177.4,589.4 177.9,588.7 178.4,588.8 178.9,588.8 179.4,589.3 179.9,589.0 180.4,589.1 180.9,588.2 181.4,588.9 181.9,588.6 182.4,588.5 182.9,588.9 183.4,588.8 183.9,588.9 184.4,588.7 184.9,588.8 185.4,588.3 185.9,588.4 186.4,588.6 186.9,588.2 187.4,587.9 187.9,588.3 188.4,588.6 188.9,588.5 189.4,587.7 189.9,588.0 190.4,587.8 190.9,587.9 191.4,588.4 191.9,587.9 192.4,587.7 192.9,587.7 193.4,587.8 193.9,588.0 194.4,587.6 194.9,587.4 195.4,587.4 195.9,587.4 196.4,588.1 196.9,587.3 197.4,587.8 197.9,587.2 198.4,587.8 198.9,587.2 199.4,587.7 199.9,587.3 200.4,586.9 200.9,586.9 201.4,587.5 201.9,587.2 202.4,587.1 202.9,586.9 203.4,587.2 203.9,586.9 204.4,586.4 204.9,586.9 205.4,586.5 205.9,587.0 206.4,586.6 206.9,586.8 207.4,586.1 207.9,586.6 208.4,586.4 208.9,586.6 209.4,586.6 209.9,586.2 210.4,586.2 210.9,586.3 211.4,585.7 211.9,585.9 212.4,586.1 212.9,585.9 213.4,585.7 213.9,586.0 214.4,586.1 214.9,585.3 215.4,585.0 215.9,585.4 216.4,584.8 216.9,585.5 217.4,584.9 217.9,584.9 218.4,585.0 218.9,584.9 219.4,584.1 219.9,584.3 220.4,583.9 220.9,584.0 221.4,583.5 221.9,584.0 222.4,583.3 222.9,583.0 223.4,583.2 223.9,582.7 224.4,581.7 224.9,581.2 225.4,580.5 225.9,579.0 226.4,577.7 226.9,576.9 227.4,574.3 227.9,572.5 228.4,569.7 228.9,566.1 229.4,561.9 229.9,557.8 230.4,552.5 230.9,545.9 231.4,540.2 231.7,536.6 231.9,532.8 232.2,528.9 232.4,524.9 232.7,521.0 232.9,516.9 233.2,512.8 233.4,508.7 233.7,505.0 233.9,501.2 234.2,497.2 234.4,493.3 234.7,489.1 234.9,485.1 235.2,481.5 235.4,477.9 235.7,474.9 235.9,471.9 236.2,469.2 236.4,466.8 236.7,464.6 236.9,462.7 237.2,461.1 237.4,459.9 237.7,459.0 237.9,458.6 238.2,458.5 238.4,458.8 238.7,459.3 238.9,460.2 239.2,461.5 239.4,463.2 239.7,465.2 239.9,467.4 240.2,469.9 240.4,472.7 240.7,475.5 240.9,478.7 241.2,482.2 241.4,485.8 241.7,489.6 241.9,493.5 242.2,497.9 242.4,502.3 242.7,506.3 242.9,510.3 243.2,514.2 243.4,518.2 243.7,522.2 243.9,526.1 244.2,529.6 244.4,532.9 244.7,536.4 244.9,539.7 245.2,543.3 245.7,549.5 246.2,554.9 246.7,559.4 247.2,563.3 247.7,566.9 248.2,570.1 248.7,572.2 249.2,573.9 249.7,575.4 250.2,576.7 250.7,578.2 251.2,578.9 251.7,579.1 252.2,579.6 252.7,580.3 253.2,580.4 253.7,580.9 254.2,581.4 254.7,581.4 255.2,581.5 255.7,581.5 256.1,581.7 256.6,582.0 257.1,582.0 257.6,582.3 258.1,582.7 258.6,582.9 259.1,583.2 259.6,583.0 260.1,583.0 260.6,583.0 261.1,583.0 261.6,583.2 262.1,583.6 262.6,583.4 263.1,583.2 263.6,583.5 264.1,583.7 264.6,584.1 265.1,584.1 265.6,583.7 266.1,583.9 266.6,584.3 267.1,584.5 267.6,584.7 268.1,584.8 268.6,584.8 269.1,585.1 269.6,585.0 270.1,584.9 270.6,585.4 271.1,585.9 271.6,586.2 272.1,586.0 272.6,586.1 273.1,586.3 273.6,586.2 274.1,586.3 274.6,586.5 275.1,586.7 275.6,586.9 276.1,587.4 276.6,587.2 277.1,587.2 277.6,587.6 278.1,587.6 278.6,587.4 279.1,587.9 279.6,588.4 280.1,588.4 280.6,588.3 281.1,588.5 281.6,588.8 282.1,588.8 282.6,588.9 283.1,589.0 283.6,589.2 284.1,589.3 284.6,589.3 285.1,589.5 285.6,589.7 286.1,589.5 286.6,589.3 287.1,589.7 287.6,589.9 288.1,589.7 288.6,589.9 289.1,589.9 289.6,589.6 290.1,589.7 290.6,590.0 291.1,590.3 291.6,590.1 292.1,590.2 292.6,590.2 293.1,590.5 293.6,590.8 294.1,590.7 294.6,590.8 295.1,590.7 295.6,590.7 296.1,590.8 296.6,590.6 297.1,590.9 297.6,591.0 298.1,590.8 298.6,590.9 299.1,591.1 299.6,591.6 300.1,591.6 300.6,591.3 301.1,591.5 301.6,591.9 302.1,592.1 302.6,591.7 303.1,591.3 303.6,591.6 304.1,592.0 304.6,592.1 305.1,592.1 305.6,591.9 306.1,591.8 306.6,592.0 307.1,592.0 307.6,591.9 308.1,592.2 308.6,592.4 309.1,592.4 309.6,592.4 310.1,592.6 310.6,592.5 311.1,592.2 311.6,592.1 312.1,592.0 312.6,592.4 313.1,592.7 313.6,592.5 314.1,592.7 314.6,592.8 315.1,592.6 315.6,592.6 316.1,592.5 316.6,592.3 317.1,592.5 317.6,592.8 318.1,593.0 318.6,592.9 319.1,592.8 319.6,592.7 320.1,592.8 320.6,592.7 321.1,592.7 321.6,593.2 322.1,593.4 322.6,593.1 323.1,593.0 323.6,593.3 324.1,593.2 324.6,593.0 325.1,593.2 325.6,593.2 326.1,593.4 326.6,593.3 327.1,593.4 327.6,593.7 328.1,593.5 328.6,593.3 329.1,593.6 329.6,593.9 330.1,593.6 330.6,593.4 331.1,593.4 331.6,593.6 332.1,593.8 332.6,593.7 333.1,593.8 333.6,593.8 334.1,593.6 334.6,593.9 335.1,594.3 335.6,594.3 336.1,594.2 336.6,594.2 337.1,594.4 337.6,594.1 338.1,593.8 338.6,594.0 339.1,594.3 339.6,594.3 340.1,594.4 340.6,594.4 341.1,594.5 341.6,594.6 342.1,594.5 342.6,594.6 343.1,594.7 343.6,594.7 344.1,594.5 344.6,594.5 345.1,594.7 345.6,594.5 346.1,594.7 346.6,594.8 347.1,594.9 347.6,595.0 348.1,595.0 348.6,595.2 349.1,595.0 349.6,595.0 350.1,594.9 350.6,594.6 351.1,594.9 351.6,595.0 352.1,594.9 352.6,595.1 353.1,595.2 353.6,595.2 354.1,595.3 354.6,595.4 355.1,595.1 355.6,595.1 356.1,595.5 356.6,595.2 357.1,594.9 357.6,594.9 358.1,594.9 358.6,595.1 359.1,595.6 359.6,595.5 360.1,595.2 360.6,595.0 361.1,595.4 361.6,595.6 362.1,595.3 362.6,595.5 363.1,595.6 363.6,595.6 364.1,595.7 364.6,595.3 365.1,595.2 365.6,595.1 366.1,595.4 366.6,595.6 367.1,595.5 367.6,595.8 368.1,595.7 368.6,595.5 369.1,595.7 369.6,595.8 370.1,595.6 370.6,595.4 371.1,595.4 371.6,595.3 372.1,595.5 372.6,595.8 373.1,595.9 373.6,595.8 374.1,595.8 374.6,595.9 375.1,596.0 375.6,596.0 376.1,595.9 376.6,595.9 377.1,595.7 377.6,595.5 378.1,595.8 378.6,596.1 379.1,596.0 379.6,596.1 380.1,596.0 380.6,595.9 381.1,596.1 381.6,595.8 382.1,595.6 382.6,595.6 383.1,595.6 383.6,596.0 384.1,596.2 384.6,595.8 385.1,595.8 385.6,596.3 386.1,596.5 386.6,596.1 387.1,596.0 387.6,596.1 388.1,595.9 388.6,596.1 389.1,596.0 389.6,595.9 390.1,596.4 390.6,596.6 391.1,596.4 391.6,596.5 392.1,596.7 392.6,596.4 393.1,596.4 393.6,596.7 394.1,596.5 394.6,596.2 395.1,596.2 395.6,596.4 396.1,596.6 396.6,596.5 397.1,596.4 397.6,596.7 398.1,596.6 398.6,596.4 399.1,596.6 399.6,596.6 400.1,596.6 400.6,596.9 401.1,596.7 401.6,596.3 402.1,596.2 402.6,596.2 403.1,596.2 403.6,596.3 404.1,596.5 404.6,596.8 405.1,596.5 405.6,596.5 406.1,596.5 406.6,596.5 407.1,596.5 407.6,596.3 408.1,596.8 408.6,597.0 409.1,596.6 409.6,596.4 410.1,596.8 410.6,596.7 411.1,596.5 411.6,596.5 412.1,596.5 412.6,596.6 413.1,596.5 413.6,596.4 414.1,596.8 414.6,597.1 415.1,596.9 415.6,596.6 416.1,596.4 416.6,596.6 417.1,596.9 417.6,596.6 418.1,596.8 418.6,597.0 419.1,596.6 419.6,596.8 420.1,597.1 420.6,597.0 421.1,596.8 421.6,596.6 422.1,596.6 422.6,597.0 423.1,597.3 423.6,597.0 424.1,597.0 424.6,597.3 425.1,597.1 425.6,597.0 426.1,597.0 426.6,597.1 427.1,597.4 427.6,597.4 428.1,597.1 428.6,597.0 429.1,597.2 429.6,597.1 430.1,596.8 430.6,596.9 431.1,597.2 431.6,597.2 432.1,597.3 432.6,597.5 433.1,597.3 433.6,597.0 434.1,597.0 434.6,596.9 435.1,596.8 435.6,597.2 436.1,597.3 436.6,597.0 437.1,597.3 437.6,597.4 438.1,597.0 438.6,596.9 439.1,597.1 439.6,597.0 440.1,597.1 440.6,597.3 441.1,597.4 441.6,597.2 442.1,596.8 442.6,596.9 443.1,597.1 443.6,597.1 444.1,597.1 444.6,597.2 445.1,596.9 445.6,597.2 446.1,597.4 446.6,597.5 447.1,597.5 447.6,597.5 448.1,597.5 448.6,597.3 449.1,597.5 449.6,597.5 450.1,597.5 450.6,597.6 451.1,597.6 451.6,597.4 452.1,597.2 452.6,597.3 453.1,597.4 453.6,597.7 454.1,597.8 454.6,597.5 455.1,597.1 455.6,597.4 456.1,597.5 456.6,597.4 457.1,597.6 457.6,597.6 458.1,597.7 458.6,597.4 459.1,597.3 459.6,597.3 460.1,597.5 460.6,597.7 461.1,597.8 461.6,597.8 462.1,597.4" stroke="#f00" stroke-width="2.3"/>
<polyline points="57.9,724.6 58.4,724.7 58.9,724.8 59.4,725.4 59.9,725.0 60.4,725.2 60.9,724.6 61.4,725.1 61.9,725.4 62.4,725.1 62.9,725.5 63.4,725.4 63.9,724.9 64.4,724.6 64.9,725.3 65.4,724.7 65.9,724.6 66.4,725.3 66.9,725.4 67.4,725.4 67.9,725.6 68.4,724.8 68.9,724.7 69.4,724.8 69.9,725.6 70.4,724.8 70.9,724.8 71.4,724.7 71.9,724.7 72.4,724.7 72.9,725.0 73.4,724.8 73.9,725.0 74.4,725.6 74.9,724.9 75.4,725.5 75.9,725.5 76.4,725.3 76.9,725.3 77.4,725.5 77.9,725.3 78.4,725.0 78.9,725.1 79.4,725.0 79.9,725.2 80.4,725.8 80.9,725.2 81.4,724.8 81.9,725.3 82.4,725.6 82.9,725.2 83.4,725.5 83.9,724.9 84.4,724.9 84.9,725.5 85.4,724.9 85.9,725.1 86.4,725.2 86.9,725.0 87.4,724.9 87.9,724.9 88.4,725.8 88.9,725.6 89.4,725.8 89.9,725.4 90.4,725.8 90.9,725.8 91.4,725.5 91.9,725.4 92.4,725.4 92.9,725.1 93.4,725.3 93.9,725.7 94.4,725.1 94.9,725.8 95.4,725.5 95.9,725.6 96.4,725.8 96.9,725.6 97.4,725.1 97.9,725.2 98.4,725.0 98.9,725.0 99.4,725.9 99.9,725.6 100.4,726.0 100.9,725.9 101.4,725.4 101.9,726.1 102.4,726.1 102.9,725.7 103.4,725.4 103.9,725.7 104.4,725.6 104.9,725.8 105.4,725.6 105.9,726.2 106.4,726.5 106.9,725.8 107.4,726.4 107.9,726.3 108.4,726.2 108.9,726.6 109.4,726.1 109.9,726.5 110.4,725.7 110.9,726.6 111.4,725.7 111.9,725.5 112.4,726.2 112.9,725.9 113.4,725.6 113.9,725.5 114.4,724.9 114.9,724.5 115.4,724.5 115.9,725.0 116.4,725.0 116.9,724.2 117.4,724.5 117.9,724.6 118.4,725.3 118.9,724.6 119.4,725.7 119.9,725.4 120.4,726.0 120.9,725.9 121.4,726.1 121.9,727.1 122.4,727.0 122.9,727.6 123.4,727.7 123.9,727.7 124.4,727.1 124.9,727.7 125.4,728.2 125.9,727.7 126.4,727.4 126.9,727.5 127.4,728.4 127.9,728.4 128.4,727.7 128.9,727.8 129.4,728.3 129.9,728.1 130.4,727.8 130.9,728.7 131.4,728.4 131.9,728.2 132.4,727.9 132.9,728.4 133.4,728.7 133.9,728.1 134.4,728.1 134.9,728.8 135.4,729.0 135.9,728.5 136.4,728.7 136.9,728.9 137.4,728.8 137.9,728.4 138.4,728.6 138.9,728.6 139.4,728.6 139.9,728.6 140.4,728.9 140.9,728.7 141.4,729.2 141.9,728.7 142.4,729.3 142.9,729.1 143.4,728.5 143.9,728.4 144.4,728.7 144.9,728.6 145.4,728.6 145.9,728.2 146.4,728.6 146.9,728.7 147.4,728.4 147.9,728.2 148.4,728.8 148.9,728.1 149.4,728.8 149.9,728.4 150.4,727.7 150.9,728.1 151.4,727.8 151.9,728.4 152.4,728.0 152.9,727.6 153.4,728.4 153.9,728.3 154.4,728.0 154.9,728.0 155.4,727.4 155.9,728.3 156.4,727.6 156.9,727.8 157.4,727.7 157.9,727.6 158.4,727.1 158.9,728.0 159.4,727.5 159.9,727.4 160.4,727.8 160.9,727.8 161.4,727.6 161.9,727.8 162.4,727.2 162.9,726.9 163.4,727.1 163.9,727.3 164.4,727.5 164.9,727.4 165.4,727.2 165.9,727.2 166.4,727.2 166.9,727.1 167.4,726.5 167.9,727.0 168.4,726.6 168.9,726.4 169.4,726.9 169.9,727.1 170.4,726.5 170.9,726.9 171.4,726.8 171.9,726.8 172.4,726.9 172.9,726.7 173.4,726.1 173.9,726.6 174.4,726.3 174.9,726.3 175.4,726.5 175.9,726.0 176.4,726.4 176.9,726.7 177.4,725.8 177.9,726.5 178.4,726.3 178.9,726.0 179.4,726.3 179.9,725.6 180.4,725.6 180.9,726.4 181.4,726.0 181.9,725.5 182.4,725.4 182.9,725.7 183.4,725.8 183.9,726.2 184.4,725.4 184.9,725.8 185.4,725.5 185.9,725.6 186.4,726.0 186.9,725.1 187.4,725.8 187.9,725.6 188.4,725.1 188.9,725.0 189.4,725.5 189.9,725.6 190.4,725.1 190.9,724.8 191.4,725.2 191.9,725.3 192.4,724.9 192.9,724.9 193.4,724.6 193.9,724.6 194.4,724.6 194.9,725.1 195.4,724.5 195.9,724.5 196.4,724.7 196.9,724.4 197.4,724.4 197.9,724.9 198.4,724.4 198.9,724.6 199.4,724.1 199.9,724.5 200.4,724.7 200.9,724.4 201.4,724.0 201.9,723.8 202.4,724.0 202.9,724.1 203.4,723.8 203.9,724.0 204.4,724.1 204.9,723.6 205.4,724.1 205.9,724.4 206.4,724.1 206.9,723.7 207.4,724.1 207.9,724.1 208.4,724.1 208.9,724.0 209.4,723.8 209.9,723.9 210.4,723.7 210.9,723.2 211.4,723.0 211.9,723.3 212.4,723.4 212.9,723.0 213.4,723.0 213.9,722.7 214.4,722.6 214.9,722.7 215.4,723.3 215.9,722.4 216.4,722.5 216.9,722.7 217.4,723.2 217.9,722.4 218.4,722.2 218.9,722.1 219.4,722.4 219.9,722.0 220.4,722.6 220.9,721.9 221.4,721.9 221.9,721.7 222.4,721.8 222.9,721.5 223.4,721.4 223.9,721.2 224.4,720.9 224.9,720.9 225.4,720.1 225.9,719.2 226.4,718.1 226.9,717.7 227.4,716.2 227.9,714.3 228.4,711.6 228.9,708.4 229.4,704.6 229.9,700.1 230.4,695.3 230.9,689.4 231.4,683.3 231.7,679.4 231.9,675.3 232.2,671.6 232.4,667.7 232.7,663.5 232.9,659.2 233.2,654.7 233.4,650.2 233.7,645.6 233.9,641.0 234.2,636.2 234.4,631.4 234.7,627.0 234.9,622.7 235.2,618.7 235.4,614.9 235.7,611.1 235.9,607.6 236.2,604.4 236.4,601.5 236.7,598.9 236.9,596.6 237.2,594.7 237.4,593.2 237.7,592.2 237.9,591.6 238.2,591.5 238.4,591.8 238.7,592.5 238.9,593.5 239.2,595.2 239.4,597.2 239.7,599.5 239.9,602.1 240.2,605.1 240.4,608.5 240.7,612.3 240.9,616.2 241.2,619.9 241.4,623.7 241.7,628.0 241.9,632.5 242.2,637.2 242.4,642.0 242.7,646.6 242.9,651.1 243.2,655.2 243.4,659.2 243.7,663.7 243.9,668.0 244.2,672.2 244.4,676.1 244.7,679.8 244.9,683.2 245.2,686.3 245.7,691.9 246.2,697.3 246.7,702.0 247.2,705.6 247.7,708.7 248.2,711.3 248.7,713.3 249.2,714.8 249.7,716.1 250.2,717.1 250.7,717.9 251.2,718.0 251.7,718.3 252.2,718.7 252.7,718.9 253.2,719.2 253.7,719.5 254.2,719.8 254.7,720.1 255.2,720.1 255.7,720.2 256.1,720.6 256.6,720.8 257.1,721.1 257.6,721.1 258.1,721.2 258.6,721.8 259.1,722.0 259.6,721.9 260.1,722.0 260.6,722.0 261.1,721.8 261.6,722.0 262.1,722.2 262.6,722.1 263.1,722.5 263.6,722.7 264.1,722.5 264.6,722.4 265.1,722.8 265.6,723.1 266.1,723.3 266.6,723.4 267.1,723.2 267.6,723.3 268.1,723.7 268.6,723.9 269.1,724.0 269.6,723.7 270.1,723.4 270.6,723.5 271.1,723.9 271.6,724.2 272.1,724.2 272.6,724.0 273.1,724.0 273.6,724.4 274.1,724.3 274.6,724.4 275.1,724.9 275.6,724.9 276.1,725.1 276.6,725.0 277.1,724.8 277.6,724.8 278.1,725.0 278.6,725.2 279.1,725.2 279.6,725.1 280.1,725.3 280.6,725.6 281.1,725.4 281.6,725.6 282.1,726.0 282.6,725.9 283.1,725.9 283.6,726.1 284.1,726.2 284.6,726.0 285.1,725.9 285.6,726.0 286.1,726.0 286.6,726.1 287.1,726.5 287.6,726.6 288.1,726.8 288.6,726.9 289.1,727.0 289.6,726.9 290.1,727.1 290.6,727.5 291.1,727.5 291.6,727.6 292.1,727.5 292.6,727.2 293.1,727.5 293.6,728.0 294.1,727.9 294.6,727.8 295.1,728.0 295.6,728.1 296.1,728.3 296.6,728.3 297.1,728.0 297.6,728.0 298.1,728.3 298.6,728.3 299.1,728.4 299.6,728.6 300.1,728.3 300.6,728.4 301.1,728.7 301.6,728.9 302.1,728.7 302.6,728.7 303.1,728.9 303.6,729.1 304.1,728.9 304.6,728.6 305.1,728.8 305.6,728.8 306.1,728.7 306.6,728.8 307.1,728.8 307.6,728.7 308.1,728.9 308.6,729.1 309.1,729.2 309.6,729.5 310.1,729.7 310.6,729.5 311.1,729.2 311.6,729.3 312.1,729.5 312.6,729.5 313.1,729.8 313.6,729.9 314.1,729.9 314.6,730.0 315.1,729.9 315.6,730.0 316.1,730.1 316.6,730.0 317.1,730.0 317.6,730.1 318.1,730.1 318.6,729.8 319.1,729.9 319.6,729.8 320.1,730.0 320.6,730.2 321.1,730.0 321.6,730.1 322.1,730.3 322.6,730.3 323.1,730.1 323.6,730.1 324.1,730.0 324.6,730.0 325.1,730.0 325.6,730.2 326.1,730.2 326.6,730.1 327.1,730.5 327.6,730.7 328.1,730.5 328.6,730.2 329.1,730.6 329.6,730.8 330.1,730.4 330.6,730.5 331.1,730.9 331.6,731.0 332.1,730.7 332.6,730.7 333.1,730.8 333.6,731.0 334.1,731.3 334.6,731.0 335.1,730.9 335.6,731.2 336.1,731.1 336.6,730.8 337.1,731.0 337.6,731.3 338.1,731.2 338.6,731.2 339.1,731.3 339.6,731.4 340.1,731.2 340.6,731.1 341.1,731.1 341.6,731.1 342.1,731.5 342.6,731.8 343.1,731.8 343.6,731.7 344.1,731.4 344.6,731.3 345.1,731.6 345.6,732.0 346.1,732.0 346.6,731.7 347.1,731.8 347.6,732.2 348.1,732.0 348.6,731.8 349.1,732.2 349.6,732.1 350.1,731.9 350.6,732.2 351.1,732.2 351.6,732.3 352.1,732.3 352.6,731.9 353.1,731.9 353.6,731.9 354.1,732.0 354.6,732.1 355.1,732.3 355.6,732.4 356.1,732.4 356.6,732.4 357.1,732.0 357.6,731.9 358.1,731.9 358.6,732.2 359.1,732.3 359.6,732.4 360.1,732.7 360.6,732.7 361.1,732.6 361.6,732.3 362.1,732.0 362.6,732.2 363.1,732.5 363.6,732.7 364.1,732.4 364.6,732.0 365.1,732.2 365.6,732.5 366.1,732.4 366.6,732.5 367.1,732.7 367.6,732.8 368.1,732.9 368.6,732.6 369.1,732.6 369.6,732.6 370.1,732.4 370.6,732.8 371.1,732.6 371.6,732.3 372.1,732.6 372.6,732.7 373.1,732.5 373.6,732.3 374.1,732.6 374.6,732.6 375.1,732.4 375.6,732.5 376.1,732.7 376.6,732.6 377.1,732.5 377.6,732.6 378.1,732.6 378.6,732.9 379.1,733.0 379.6,733.0 380.1,733.3 380.6,733.4 381.1,733.0 381.6,732.9 382.1,732.9 382.6,732.6 383.1,732.8 383.6,733.1 384.1,732.9 384.6,732.8 385.1,733.1 385.6,733.2 386.1,732.9 386.6,733.1 387.1,733.1 387.6,732.8 388.1,733.2 388.6,733.1 389.1,732.9 389.6,733.0 390.1,733.4 390.6,733.3 391.1,732.9 391.6,733.0 392.1,733.4 392.6,733.3 393.1,733.1 393.6,733.4 394.1,733.6 394.6,733.4 395.1,733.3 395.6,733.5 396.1,733.5 396.6,733.8 397.1,733.7 397.6,733.6 398.1,733.3 398.6,733.2 399.1,733.6 399.6,733.8 400.1,733.5 400.6,733.2 401.1,733.5 401.6,733.8 402.1,733.7 402.6,733.8 403.1,733.5 403.6,733.4 404.1,733.7 404.6,733.8 405.1,733.6 405.6,733.4 406.1,733.7 406.6,733.8 407.1,733.5 407.6,733.3 408.1,733.4 408.6,733.4 409.1,733.5 409.6,733.3 410.1,733.1 410.6,733.5 411.1,733.7 411.6,733.3 412.1,733.3 412.6,733.7 413.1,733.6 413.6,733.4 414.1,733.7 414.6,734.0 415.1,733.8 415.6,733.7 416.1,733.8 416.6,733.8 417.1,733.6 417.6,733.5 418.1,733.5 418.6,733.4 419.1,733.4 419.6,733.6 420.1,733.7 420.6,733.3 421.1,733.3 421.6,733.7 422.1,733.9 422.6,733.6 423.1,733.3 423.6,733.4 424.1,733.7 424.6,733.8 425.1,733.6 425.6,733.7 426.1,734.0 426.6,733.9 427.1,734.0 427.6,733.8 428.1,733.5 428.6,733.5 429.1,733.8 429.6,734.1 430.1,733.8 430.6,733.7 431.1,733.8 431.6,733.8 432.1,733.8 432.6,733.7 433.1,733.9 433.6,733.9 434.1,734.0 434.6,734.0 435.1,733.7 435.6,733.6 436.1,733.6 436.6,733.7 437.1,733.8 437.6,733.8 438.1,733.7 438.6,733.9 439.1,733.9 439.6,733.8 440.1,733.8 440.6,733.8 441.1,733.8 441.6,733.7 442.1,733.6 442.6,733.6 443.1,733.7 443.6,733.7 444.1,733.6 444.6,733.5 445.1,733.6 445.6,733.9 446.1,733.7 446.6,733.8 447.1,733.9 447.6,733.6 448.1,733.7 448.6,734.0 449.1,734.3 449.6,734.3 450.1,734.3 450.6,734.2 451.1,733.9 451.6,733.6 452.1,734.0 452.6,734.1 453.1,733.7 453.6,733.7 454.1,733.9 454.6,734.0 455.1,734.1 455.6,734.0 456.1,733.8 456.6,733.9 457.1,734.1 457.6,734.0 458.1,734.2 458.6,734.2 459.1,733.7 459.6,733.7 460.1,733.9 460.6,733.9 461.1,734.1 461.6,734.2 462.1,734.1" stroke="#00f" stroke-width="2.3"/>
<polyline points="57.9,770.1 58.4,770.2 58.9,770.6 59.4,769.7 59.9,770.4 60.4,770.8 60.9,770.8 61.4,769.7 61.9,770.5 62.4,770.5 62.9,770.3 63.4,771.1 63.9,770.4 64.4,770.3 64.9,771.1 65.4,770.7 65.9,770.2 66.4,770.2 66.9,770.5 67.4,769.8 67.9,770.8 68.4,771.0 68.9,770.5 69.4,771.2 69.9,771.4 70.4,770.8 70.9,771.1 71.4,770.2 71.9,770.1 72.4,771.6 72.9,770.5 73.4,770.5 73.9,771.6 74.4,771.4 74.9,770.4 75.4,770.8 75.9,770.7 76.4,770.7 76.9,770.3 77.4,771.2 77.9,770.9 78.4,771.0 78.9,770.7 79.4,770.7 79.9,770.6 80.4,771.9 80.9,771.8 81.4,771.5 81.9,770.8 82.4,770.9 82.9,770.9 83.4,771.2 83.9,770.8 84.4,771.2 84.9,771.1 85.4,771.1 85.9,771.9 86.4,771.6 86.9,771.7 87.4,771.5 87.9,771.8 88.4,772.3 88.9,771.5 89.4,771.2 89.9,771.9 90.4,771.7 90.9,772.4 91.4,771.4 91.9,772.6 92.4,771.3 92.9,772.1 93.4,772.0 93.9,771.8 94.4,772.8 94.9,772.5 95.4,771.7 95.9,772.2 96.4,772.5 96.9,771.6 97.4,771.7 97.9,772.5 98.4,772.8 98.9,772.4 99.4,772.3 99.9,772.5 100.4,772.1 100.9,773.1 101.4,773.3 101.9,772.5 102.4,771.8 102.9,772.4 103.4,773.1 103.9,772.3 104.4,772.0 104.9,772.1 105.4,773.0 105.9,772.9 106.4,772.3 106.9,772.9 107.4,773.1 107.9,773.5 108.4,773.3 108.9,772.7 109.4,773.3 109.9,773.5 110.4,773.4 110.9,773.2 111.4,773.0 111.9,772.9 112.4,773.4 112.9,773.1 113.4,773.3 113.9,772.5 114.4,772.3 114.9,772.6 115.4,773.1 115.9,773.1 116.4,772.5 116.9,772.5 117.4,773.7 117.9,772.4 118.4,773.7 118.9,773.5 119.4,773.2 119.9,773.9 120.4,773.4 120.9,772.3 121.4,773.8 121.9,773.0 122.4,773.8 122.9,773.7 123.4,772.6 123.9,772.5 124.4,772.5 124.9,773.7 125.4,773.7 125.9,772.8 126.4,772.7 126.9,773.1 127.4,773.8 127.9,773.7 128.4,773.9 128.9,774.1 129.4,773.8 129.9,773.9 130.4,772.6 130.9,772.6 131.4,774.0 131.9,773.6 132.4,773.2 132.9,772.9 133.4,773.2 133.9,773.3 134.4,773.5 134.9,773.5 135.4,773.1 135.9,772.9 136.4,773.1 136.9,773.0 137.4,773.0 137.9,773.5 138.4,773.1 138.9,774.1 139.4,773.8 139.9,773.6 140.4,773.9 140.9,773.3 141.4,773.0 141.9,773.1 142.4,773.5 142.9,773.6 143.4,773.4 143.9,773.5 144.4,774.4 144.9,773.1 145.4,773.8 145.9,773.7 146.4,773.5 146.9,774.3 147.4,773.5 147.9,773.2 148.4,773.4 148.9,774.7 149.4,773.7 149.9,773.4 150.4,774.7 150.9,774.2 151.4,774.7 151.9,773.7 152.4,774.4 152.9,773.2 153.4,773.5 153.9,774.4 154.4,773.9 154.9,774.3 155.4,773.7 155.9,774.4 156.4,773.1 156.9,774.0 157.4,773.3 157.9,773.3 158.4,774.4 158.9,773.6 159.4,774.2 159.9,773.4 160.4,774.1 160.9,774.3 161.4,773.9 161.9,773.2 162.4,773.9 162.9,774.3 163.4,774.1 163.9,773.5 164.4,773.4 164.9,772.9 165.4,774.0 165.9,773.0 166.4,773.1 166.9,772.7 167.4,772.9 167.9,773.3 168.4,773.4 168.9,772.9 169.4,773.3 169.9,773.8 170.4,772.7 170.9,772.8 171.4,773.4 171.9,774.0 172.4,774.0 172.9,773.4 173.4,772.6 173.9,773.9 174.4,774.1 174.9,773.9 175.4,773.3 175.9,773.0 176.4,773.3 176.9,773.7 177.4,774.0 177.9,773.2 178.4,773.2 178.9,772.8 179.4,773.2 179.9,773.2 180.4,772.7 180.9,773.0 181.4,773.7 181.9,772.6 182.4,772.6 182.9,772.7 183.4,773.6 183.9,772.7 184.4,773.5 184.9,773.6 185.4,773.5 185.9,773.4 186.4,772.4 186.9,772.8 187.4,773.4 187.9,772.5 188.4,773.0 188.9,773.4 189.4,773.5 189.9,772.6 190.4,772.2 190.9,772.0 191.4,772.5 191.9,772.8 192.4,772.4 192.9,773.2 193.4,772.9 193.9,772.9 194.4,773.2 194.9,772.4 195.4,772.9 195.9,772.4 196.4,772.3 196.9,772.0 197.4,773.0 197.9,773.2 198.4,771.8 198.9,772.9 199.4,771.8 199.9,772.4 200.4,772.1 200.9,773.0 201.4,772.2 201.9,772.2 202.4,771.9 202.9,771.7 203.4,771.6 203.9,771.2 204.4,771.1 204.9,771.8 205.4,772.1 205.9,771.9 206.4,771.2 206.9,772.2 207.4,770.7 207.9,771.2 208.4,771.0 208.9,770.7 209.4,771.8 209.9,771.4 210.4,770.3 210.9,770.3 211.4,771.3 211.9,770.5 212.4,770.3 212.9,770.2 213.4,770.2 213.9,770.5 214.4,770.0 214.9,770.4 215.4,769.4 215.9,770.1 216.4,770.1 216.9,769.5 217.4,770.3 217.9,770.3 218.4,769.7 218.9,769.2 219.4,768.7 219.9,769.2 220.4,768.6 220.9,768.3 221.4,768.8 221.9,768.2 222.4,768.7 222.9,768.8 223.4,767.5 223.9,768.3 224.4,767.5 224.9,767.5 225.4,768.0 225.9,768.2 226.4,767.0 226.9,767.5 227.4,766.6 227.9,767.2 228.4,765.6 228.9,766.0 229.4,764.5 229.9,764.6 230.4,764.0 230.9,763.3 231.4,761.9 231.9,760.2 232.4,758.5 232.9,757.3 233.4,755.6 233.9,753.9 234.4,752.5 234.9,750.8 235.4,749.6 235.9,748.6 236.4,748.1 236.9,747.9 237.4,748.0 237.9,748.8 238.4,749.6 238.9,751.0 239.4,752.9 239.9,754.5 240.4,756.2 240.9,757.4 241.4,758.5 241.9,759.5 242.4,761.2 242.9,762.5 243.4,762.3 243.9,762.5 244.4,763.7 244.9,764.0 245.4,762.8 245.9,762.6 246.4,762.2 246.9,762.6 247.4,762.6 247.9,761.2 248.4,761.6 248.9,759.9 249.4,759.6 249.9,759.6 250.4,759.4 250.9,758.3 251.4,758.1 251.9,756.9 252.4,756.4 252.9,756.0 253.4,754.5 253.9,754.2 254.4,753.8 254.9,753.6 255.4,752.3 255.9,751.7 256.4,752.3 256.9,751.2 257.4,750.3 257.9,750.5 258.4,750.0 258.9,749.4 259.4,749.1 259.9,748.9 260.4,748.6 260.9,748.8 261.4,748.8 261.9,749.0 262.4,749.3 262.9,749.9 263.4,750.0 263.9,750.1 264.4,751.0 264.9,751.4 265.4,751.9 265.9,754.1 266.4,754.4 266.9,754.4 267.4,756.1 267.9,756.5 268.4,757.9 268.9,759.6 269.4,760.5 269.9,760.5 270.4,762.0 270.9,762.4 271.4,762.6 271.9,763.9 272.4,765.3 272.9,766.0 273.4,766.6 273.9,767.6 274.4,767.2 274.9,768.3 275.4,769.0 275.9,769.6 276.4,769.9 276.9,770.3 277.4,769.8 277.9,770.2 278.4,770.8 278.9,770.3 279.4,770.8 279.9,771.1 280.4,771.0 280.9,771.1 281.4,772.0 281.9,771.5 282.4,771.2 282.9,772.5 283.4,772.8 283.9,771.7 284.4,772.5 284.9,771.6 285.4,771.9 285.9,771.8 286.4,772.6 286.9,772.5 287.4,773.0 287.9,772.7 288.4,772.9 288.9,773.1 289.4,772.7 289.9,772.1 290.4,772.1 290.9,773.2 291.4,773.2 291.9,772.9 292.4,773.4 292.9,773.2 293.4,772.6 293.9,772.3 294.4,772.7 294.9,773.5 295.4,773.4 295.9,772.0 296.4,772.1 296.9,772.8 297.4,773.6 297.9,773.5 298.4,773.5 298.9,772.3 299.4,772.5 299.9,773.4 300.4,772.9 300.9,772.8 301.4,773.8 301.9,772.3 302.4,773.1 302.9,773.8 303.4,773.5 303.9,773.8 304.4,772.9 304.9,773.3 305.4,774.0 305.9,772.7 306.4,773.2 306.9,774.1 307.4,772.8 307.9,773.8 308.4,773.8 308.9,773.1 309.4,774.3 309.9,773.9 310.4,772.9 310.9,774.3 311.4,774.2 311.9,773.6 312.4,772.9 312.9,774.1 313.4,773.8 313.9,774.1 314.4,773.0 314.9,773.7 315.4,774.3 315.9,774.2 316.4,773.3 316.9,773.6 317.4,773.8 317.9,773.8 318.4,774.7 318.9,774.6 319.4,773.2 319.9,774.2 320.4,773.4 320.9,774.6 321.4,774.1 321.9,774.7 322.4,774.8 322.9,774.8 323.4,773.6 323.9,773.5 324.4,774.7 324.9,774.2 325.4,774.7 325.9,774.2 326.4,774.2 326.9,774.7 327.4,774.2 327.9,774.4 328.4,774.3 328.9,774.7 329.4,773.8 329.9,774.4 330.4,774.6 330.9,774.8 331.4,775.2 331.9,774.4 332.4,775.4 332.9,775.0 333.4,774.5 333.9,774.8 334.4,774.5 334.9,775.0 335.4,774.0 335.9,775.4 336.4,774.6 336.9,774.1 337.4,774.2 337.9,774.6 338.4,774.5 338.9,775.5 339.4,774.8 339.9,775.7 340.4,774.7 340.9,774.8 341.4,775.8 341.9,775.7 342.4,775.8 342.9,774.5 343.4,774.5 343.9,775.5 344.4,775.0 344.9,774.6 345.4,774.6 345.9,775.0 346.4,775.0 346.9,775.6 347.4,776.2 347.9,774.9 348.4,775.9 348.9,775.6 349.4,776.1 349.9,776.3 350.4,776.2 350.9,774.9 351.4,775.9 351.9,776.0 352.4,775.3 352.9,774.8 353.4,775.9 353.9,775.7 354.4,776.0 354.9,776.0 355.4,775.9 355.9,774.8 356.4,776.3 356.9,776.3 357.4,775.3 357.9,776.0 358.4,776.3 358.9,775.5 359.4,775.3 359.9,775.8 360.4,776.0 360.9,775.5 361.4,775.9 361.9,776.3 362.4,775.4 362.9,776.3 363.4,775.0 363.9,775.8 364.4,776.2 364.9,775.5 365.4,775.3 365.9,775.3 366.4,775.4 366.9,775.5 367.4,775.5 367.9,775.3 368.4,775.8 368.9,775.2 369.4,775.3 369.9,775.6 370.4,776.3 370.9,775.3 371.4,775.2 371.9,776.1 372.4,775.8 372.9,775.1 373.4,776.5 373.9,775.2 374.4,775.9 374.9,775.3 375.4,776.3 375.9,775.5 376.4,775.9 376.9,776.2 377.4,776.1 377.9,775.4 378.4,775.4 378.9,775.9 379.4,775.8 379.9,776.1 380.4,775.1 380.9,775.1 381.4,775.0 381.9,776.3 382.4,775.3 382.9,776.2 383.4,775.7 383.9,776.5 384.4,776.0 384.9,776.4 385.4,775.2 385.9,776.5 386.4,775.6 386.9,775.1 387.4,776.4 387.9,775.4 388.4,776.1 388.9,775.1 389.4,775.8 389.9,775.8 390.4,775.8 390.9,776.4 391.4,775.5 391.9,776.5 392.4,775.3 392.9,776.6 393.4,775.5 393.9,776.2 394.4,776.6 394.9,776.2 395.4,776.5 395.9,775.2 396.4,776.7 396.9,775.2 397.4,776.2 397.9,776.4 398.4,776.4 398.9,776.3 399.4,776.1 399.9,776.7 400.4,775.5 400.9,776.6 401.4,776.4 401.9,775.5 402.4,775.9 402.9,775.9 403.4,775.4 403.9,776.5 404.4,776.6 404.9,776.4 405.4,775.3 405.9,776.4 406.4,776.7 406.9,776.4 407.4,776.7 407.9,776.8 408.4,776.3 408.9,776.4 409.4,775.7 409.9,776.5 410.4,775.7 410.9,775.7 411.4,775.8 411.9,775.7 412.4,775.3 412.9,775.5 413.4,775.7 413.9,775.6 414.4,775.3 414.9,776.5 415.4,776.6 415.9,775.8 416.4,776.4 416.9,776.7 417.4,775.3 417.9,776.2 418.4,776.3 418.9,775.6 419.4,776.8 419.9,776.6 420.4,776.2 420.9,776.2 421.4,776.7 421.9,775.4 422.4,776.7 422.9,776.2 423.4,775.8 423.9,775.8 424.4,776.2 424.9,775.5 425.4,776.7 425.9,776.0 426.4,776.8 426.9,776.9 427.4,776.7 427.9,775.6 428.4,775.8 428.9,776.4 429.4,776.9 429.9,776.4 430.4,776.0 430.9,776.7 431.4,776.2 431.9,776.4 432.4,776.2 432.9,777.0 433.4,776.4 433.9,775.6 434.4,776.5 434.9,776.1 435.4,775.7 435.9,776.3 436.4,775.9 436.9,777.0 437.4,775.8 437.9,776.4 438.4,775.5 438.9,776.0 439.4,776.5 439.9,776.3 440.4,776.6 440.9,776.4 441.4,776.5 441.9,775.9 442.4,777.0 442.9,776.6 443.4,775.6 443.9,776.9 444.4,775.8 444.9,776.2 445.4,776.6 445.9,777.0 446.4,775.8 446.9,776.0 447.4,776.4 447.9,776.7 448.4,776.3 448.9,776.7 449.4,777.2 449.9,775.7 450.4,776.2 450.9,776.9 451.4,776.9 451.9,777.1 452.4,776.2 452.9,776.0 453.4,776.7 453.9,777.0 454.4,776.9 454.9,776.5 455.4,775.8 455.9,776.8 456.4,776.1 456.9,775.7 457.4,775.7 457.9,776.2 458.4,776.3 458.9,776.5 459.4,776.4 459.9,776.5 460.4,776.7 460.9,776.0 461.4,777.0 461.9,776.8" stroke="#000" stroke-width="2.3"/>
</g>
<rect x="56.1" y="442.9" width="407.90" height="357.40" fill="none" stroke="#000" stroke-width="3.6" stroke-linejoin="round"/>
<line x1="57.9" y1="455.5" x2="62.0" y2="455.5" stroke="#000" stroke-width="3.0" stroke-linecap="round"/>
<line x1="57.9" y1="505.2" x2="59.2" y2="505.2" stroke="#000" stroke-width="3.0" stroke-linecap="round"/>
<line x1="57.9" y1="556.0" x2="62.0" y2="556.0" stroke="#000" stroke-width="3.0" stroke-linecap="round"/>
<line x1="57.9" y1="605.6" x2="59.2" y2="605.6" stroke="#000" stroke-width="3.0" stroke-linecap="round"/>
<line x1="57.9" y1="656.4" x2="62.0" y2="656.4" stroke="#000" stroke-width="3.0" stroke-linecap="round"/>
<line x1="57.9" y1="706.0" x2="59.2" y2="706.0" stroke="#000" stroke-width="3.0" stroke-linecap="round"/>
<line x1="57.9" y1="756.3" x2="62.0" y2="756.3" stroke="#000" stroke-width="3.0" stroke-linecap="round"/>
<line x1="124.2" y1="798.6" x2="124.2" y2="797.6" stroke="#000" stroke-width="3.1" stroke-linecap="round"/>
<line x1="192.2" y1="798.6" x2="192.2" y2="794.9" stroke="#000" stroke-width="3.1" stroke-linecap="round"/>
<line x1="260.1" y1="798.6" x2="260.1" y2="797.6" stroke="#000" stroke-width="3.1" stroke-linecap="round"/>
<line x1="328.0" y1="798.6" x2="328.0" y2="794.9" stroke="#000" stroke-width="3.1" stroke-linecap="round"/>
<line x1="396.0" y1="798.6" x2="396.0" y2="797.6" stroke="#000" stroke-width="3.1" stroke-linecap="round"/>
<rect x="7.5" y="442" width="41.5" height="58.2" fill="#000"/>
<text x="28.3" y="485.4" font-size="38.5" font-family="Liberation Serif, serif" fill="#fff" text-anchor="middle" textLength="19" lengthAdjust="spacingAndGlyphs" stroke="#fff" stroke-width="0.45">b</text>
<text x="328.1" y="586.7" font-size="17.3" font-family="Liberation Serif, serif" fill="#000" textLength="124.4" lengthAdjust="spacingAndGlyphs">Pt/TiO<tspan dy="6.5" font-size="11">2</tspan><tspan dy="-6.5">/Se/Ni foil</tspan></text>
<text x="320.2" y="723.1" font-size="17.3" font-family="Liberation Serif, serif" fill="#000" textLength="135.2" lengthAdjust="spacingAndGlyphs">annealed Se/Ni foil</text>
<text x="320.2" y="769.5" font-size="17.3" font-family="Liberation Serif, serif" fill="#000" textLength="135.2" lengthAdjust="spacingAndGlyphs">as-grown Se/Ni foil</text>
<text x="79.5" y="765.8" font-size="15" font-family="Liberation Serif, serif" fill="#000" textLength="14.9" lengthAdjust="spacingAndGlyphs">x5</text>
<text x="56.3" y="825" font-size="22" font-family="Liberation Serif, serif" fill="#000" text-anchor="middle">100</text>
<text x="192.17000000000002" y="825" font-size="22" font-family="Liberation Serif, serif" fill="#000" text-anchor="middle">200</text>
<text x="328.04" y="825" font-size="22" font-family="Liberation Serif, serif" fill="#000" text-anchor="middle">300</text>
<text x="463.91" y="825" font-size="22" font-family="Liberation Serif, serif" fill="#000" text-anchor="middle">400</text>
<text x="145.0" y="870.3" font-size="30" font-family="Liberation Serif, serif" fill="#000" textLength="232" lengthAdjust="spacingAndGlyphs" stroke="#000" stroke-width="0.25">Raman Shift (cm<tspan dy="-12.8" font-size="17.5">-1</tspan><tspan dy="12.8">)</tspan></text>
<text transform="translate(32.5,725.2) rotate(-90)" font-size="32" font-family="Liberation Serif, serif" textLength="179.2" lengthAdjust="spacingAndGlyphs" stroke="#000" stroke-width="0.25">Intensity (a.u.)</text>
<rect x="56.1" y="885.1" width="406.80" height="356.30" fill="none" stroke="#000" stroke-width="3.6" stroke-linejoin="round"/>
<clipPath id="cc"><rect x="54.3" y="886.8" width="406.8" height="352.9"/></clipPath>
<g clip-path="url(#cc)"><polygon points="55.0,934.5 56.0,935.5 57.0,936.4 58.0,939.0 59.0,943.3 60.0,947.2 61.0,951.0 62.0,954.2 63.0,957.6 64.0,961.2 65.0,962.5 66.0,962.9 67.0,963.2 68.0,963.6 69.0,964.0 70.0,964.3 71.0,964.7 72.0,965.1 73.0,965.1 74.0,964.8 75.0,964.4 76.0,964.1 77.0,963.8 78.0,963.5 79.0,963.1 80.0,962.8 81.0,962.5 82.0,962.2 83.0,962.0 84.0,961.8 85.0,961.5 86.0,961.2 87.0,961.0 88.0,960.8 89.0,960.5 90.0,960.1 91.0,959.6 92.0,959.2 93.0,958.8 94.0,958.3 95.0,957.9 96.0,957.4 97.0,957.0 98.0,956.6 99.0,956.2 100.0,955.9 101.0,955.5 102.0,955.1 103.0,954.7 104.0,954.4 105.0,954.0 106.0,954.0 107.0,954.6 108.0,955.2 109.0,955.8 110.0,956.4 111.0,957.0 112.0,957.6 113.0,958.2 114.0,958.8 115.0,959.9 116.0,961.0 117.0,962.1 118.0,963.2 119.0,964.4 120.0,965.5 121.0,966.6 122.0,967.8 123.0,969.2 124.0,970.7 125.0,972.1 126.0,973.6 127.0,975.1 128.0,976.5 129.0,978.0 130.0,979.5 131.0,981.0 132.0,982.7 133.0,984.3 134.0,985.9 135.0,987.6 136.0,989.2 137.0,990.9 138.0,992.5 139.0,994.3 140.0,996.5 141.0,998.6 142.0,1000.7 143.0,1002.2 144.0,1003.8 145.0,1005.3 146.0,1006.9 147.0,1008.4 148.0,1009.9 149.0,1011.5 150.0,1013.0 151.0,1014.9 152.0,1016.9 153.0,1018.9 154.0,1020.9 155.0,1022.8 156.0,1024.8 157.0,1026.8 158.0,1028.8 159.0,1031.0 160.0,1033.4 161.0,1035.9 162.0,1038.3 163.0,1040.7 164.0,1043.2 165.0,1045.6 166.0,1048.0 167.0,1050.4 168.0,1052.3 169.0,1054.1 170.0,1056.0 171.0,1057.8 172.0,1059.7 173.0,1061.5 174.0,1063.4 175.0,1065.2 176.0,1066.7 177.0,1068.1 178.0,1069.5 179.0,1070.9 180.0,1072.3 181.0,1073.7 182.0,1075.1 183.0,1076.5 184.0,1077.3 185.0,1077.8 186.0,1078.4 187.0,1078.9 188.0,1079.5 189.0,1080.0 190.0,1080.6 191.0,1081.1 192.0,1081.6 193.0,1081.8 194.0,1082.0 195.0,1082.2 196.0,1082.5 197.0,1082.7 198.0,1082.9 199.0,1083.1 200.0,1083.3 201.0,1082.7 202.0,1082.0 203.0,1081.3 204.0,1080.7 205.0,1080.0 206.0,1079.3 207.0,1078.7 208.0,1078.0 209.0,1077.2 210.0,1076.3 211.0,1075.5 212.0,1074.7 213.0,1073.8 214.0,1073.0 215.0,1072.1 216.0,1071.3 217.0,1070.6 218.0,1069.9 219.0,1069.3 220.0,1068.7 221.0,1068.1 222.0,1067.4 223.0,1066.8 224.0,1066.2 225.0,1065.9 226.0,1066.2 227.0,1066.6 228.0,1066.9 229.0,1067.3 230.0,1067.7 231.0,1068.0 232.0,1068.4 233.0,1068.8 234.0,1069.2 235.0,1069.6 236.0,1070.1 237.0,1070.5 238.0,1070.9 239.0,1071.4 240.0,1071.8 241.0,1072.3 242.0,1072.7 243.0,1073.4 244.0,1074.1 245.0,1074.9 246.0,1075.7 247.0,1076.4 248.0,1077.2 249.0,1078.0 250.0,1078.7 251.0,1079.5 252.0,1080.3 253.0,1081.5 254.0,1082.9 255.0,1084.3 256.0,1085.7 257.0,1087.2 258.0,1088.6 259.0,1090.0 260.0,1091.4 261.0,1092.8 262.0,1094.2 263.0,1095.6 264.0,1097.1 265.0,1098.5 266.0,1099.9 267.0,1101.3 268.0,1102.7 269.0,1104.1 270.0,1105.5 271.0,1107.0 272.0,1108.4 273.0,1109.5 274.0,1110.5 275.0,1111.5 276.0,1112.5 277.0,1113.5 278.0,1114.6 279.0,1115.6 280.0,1116.6 281.0,1117.6 282.0,1118.7 283.0,1119.3 284.0,1120.0 285.0,1120.6 286.0,1121.3 287.0,1122.0 288.0,1122.6 289.0,1123.3 290.0,1123.9 291.0,1124.6 292.0,1125.2 293.0,1125.7 294.0,1126.1 295.0,1126.6 296.0,1127.0 297.0,1127.5 298.0,1128.0 299.0,1128.4 300.0,1128.9 301.0,1129.3 302.0,1129.8 303.0,1130.0 304.0,1130.3 305.0,1130.5 306.0,1130.8 307.0,1131.0 308.0,1131.3 309.0,1131.5 310.0,1131.8 311.0,1132.0 312.0,1132.2 313.0,1132.1 314.0,1131.9 315.0,1131.8 316.0,1131.6 317.0,1131.5 318.0,1131.3 319.0,1131.2 320.0,1131.0 321.0,1130.8 322.0,1130.4 323.0,1129.5 324.0,1128.5 325.0,1127.5 326.0,1126.6 327.0,1125.6 328.0,1124.7 329.0,1123.7 330.0,1122.8 331.0,1121.8 332.0,1120.9 333.0,1119.8 334.0,1118.8 335.0,1117.7 336.0,1116.7 337.0,1115.7 338.0,1114.6 339.0,1113.6 340.0,1112.5 341.0,1111.5 342.0,1110.4 343.0,1109.1 344.0,1107.8 345.0,1106.5 346.0,1105.2 347.0,1103.9 348.0,1102.9 349.0,1102.7 350.0,1102.4 351.0,1102.2 352.0,1101.9 353.0,1101.7 354.0,1101.4 355.0,1101.2 356.0,1101.4 357.0,1101.7 358.0,1102.0 359.0,1102.4 360.0,1102.7 361.0,1103.0 362.0,1103.3 363.0,1104.0 364.0,1105.5 365.0,1107.1 366.0,1108.7 367.0,1110.3 368.0,1111.8 369.0,1113.4 370.0,1115.0 371.0,1116.9 372.0,1118.9 373.0,1120.9 374.0,1122.9 375.0,1124.9 376.0,1126.9 377.0,1128.9 378.0,1130.9 379.0,1133.2 380.0,1135.4 381.0,1137.7 382.0,1139.9 383.0,1142.1 384.0,1144.4 385.0,1146.6 386.0,1148.6 387.0,1150.4 388.0,1152.2 389.0,1153.9 390.0,1155.7 391.0,1157.5 392.0,1159.3 393.0,1161.1 394.0,1162.6 395.0,1164.2 396.0,1165.7 397.0,1167.2 398.0,1168.8 399.0,1170.3 400.0,1171.9 401.0,1173.1 402.0,1174.0 403.0,1174.9 404.0,1175.9 405.0,1176.8 406.0,1177.7 407.0,1178.6 408.0,1179.5 409.0,1180.2 410.0,1180.9 411.0,1181.5 412.0,1182.2 413.0,1182.9 414.0,1183.5 415.0,1184.2 416.0,1184.8 417.0,1185.3 418.0,1185.9 419.0,1186.4 420.0,1187.0 421.0,1187.5 422.0,1188.1 423.0,1188.6 424.0,1189.1 425.0,1189.5 426.0,1190.0 427.0,1190.5 428.0,1191.0 429.0,1191.5 430.0,1191.9 431.0,1192.4 432.0,1192.7 433.0,1193.0 434.0,1193.3 435.0,1193.6 436.0,1194.0 437.0,1194.3 438.0,1194.6 439.0,1194.9 440.0,1195.2 441.0,1195.6 442.0,1195.8 443.0,1196.1 444.0,1196.4 445.0,1196.7 446.0,1197.0 447.0,1197.3 448.0,1197.6 449.0,1197.9 450.0,1198.1 451.0,1198.4 452.0,1198.8 453.0,1199.1 454.0,1199.4 455.0,1199.7 456.0,1200.1 457.0,1200.4 458.0,1200.7 459.0,1201.0 460.0,1201.3 461.0,1201.6 461.0,1209.8 460.0,1209.5 459.0,1209.2 458.0,1208.9 457.0,1208.6 456.0,1208.3 455.0,1207.9 454.0,1207.6 453.0,1207.3 452.0,1207.0 451.0,1206.6 450.0,1206.3 449.0,1206.0 448.0,1205.7 447.0,1205.4 446.0,1205.1 445.0,1204.8 444.0,1204.5 443.0,1204.2 442.0,1203.9 441.0,1203.6 440.0,1203.2 439.0,1202.8 438.0,1202.5 437.0,1202.1 436.0,1201.7 435.0,1201.3 434.0,1201.0 433.0,1200.6 432.0,1200.2 431.0,1199.9 430.0,1199.4 429.0,1198.8 428.0,1198.3 427.0,1197.8 426.0,1197.2 425.0,1196.7 424.0,1196.1 423.0,1195.6 422.0,1195.1 421.0,1194.7 420.0,1194.2 419.0,1193.8 418.0,1193.3 417.0,1192.9 416.0,1192.4 415.0,1191.8 414.0,1191.1 413.0,1190.4 412.0,1189.8 411.0,1189.1 410.0,1188.4 409.0,1187.7 408.0,1187.0 407.0,1186.3 406.0,1185.5 405.0,1184.8 404.0,1184.0 403.0,1183.3 402.0,1182.5 401.0,1181.7 400.0,1180.7 399.0,1179.2 398.0,1177.8 397.0,1176.3 396.0,1174.9 395.0,1173.5 394.0,1172.0 393.0,1170.6 392.0,1168.8 391.0,1166.9 390.0,1165.0 389.0,1163.1 388.0,1161.2 387.0,1159.3 386.0,1157.4 385.0,1155.4 384.0,1153.4 383.0,1151.3 382.0,1149.2 381.0,1147.1 380.0,1145.1 379.0,1143.0 378.0,1140.9 377.0,1138.9 376.0,1136.9 375.0,1134.9 374.0,1132.9 373.0,1130.9 372.0,1128.9 371.0,1126.9 370.0,1125.0 369.0,1123.6 368.0,1122.1 367.0,1120.7 366.0,1119.3 365.0,1117.8 364.0,1116.4 363.0,1115.0 362.0,1114.3 361.0,1113.9 360.0,1113.6 359.0,1113.2 358.0,1112.9 357.0,1112.5 356.0,1112.2 355.0,1111.9 354.0,1112.0 353.0,1112.2 352.0,1112.3 351.0,1112.5 350.0,1112.6 349.0,1112.8 348.0,1112.9 347.0,1113.9 346.0,1115.2 345.0,1116.5 344.0,1117.8 343.0,1119.1 342.0,1120.4 341.0,1121.5 340.0,1122.4 339.0,1123.3 338.0,1124.2 337.0,1125.1 336.0,1126.0 335.0,1126.9 334.0,1127.8 333.0,1128.7 332.0,1129.6 331.0,1130.5 330.0,1131.5 329.0,1132.4 328.0,1133.3 327.0,1134.3 326.0,1135.2 325.0,1136.2 324.0,1137.1 323.0,1138.1 322.0,1139.0 321.0,1139.2 320.0,1139.2 319.0,1139.1 318.0,1139.1 317.0,1139.0 316.0,1139.0 315.0,1138.9 314.0,1138.8 313.0,1138.8 312.0,1138.7 311.0,1138.5 310.0,1138.3 309.0,1138.0 308.0,1137.8 307.0,1137.5 306.0,1137.3 305.0,1137.0 304.0,1136.8 303.0,1136.5 302.0,1136.2 301.0,1135.9 300.0,1135.5 299.0,1135.2 298.0,1134.9 297.0,1134.5 296.0,1134.1 295.0,1133.8 294.0,1133.5 293.0,1133.1 292.0,1132.8 291.0,1132.2 290.0,1131.7 289.0,1131.1 288.0,1130.6 287.0,1130.0 286.0,1129.5 285.0,1129.0 284.0,1128.4 283.0,1127.9 282.0,1127.3 281.0,1126.3 280.0,1125.3 279.0,1124.3 278.0,1123.3 277.0,1122.2 276.0,1121.2 275.0,1120.2 274.0,1119.2 273.0,1118.2 272.0,1117.1 271.0,1115.8 270.0,1114.5 269.0,1113.2 268.0,1111.9 267.0,1110.7 266.0,1109.4 265.0,1108.1 264.0,1106.8 263.0,1105.5 262.0,1104.2 261.0,1102.9 260.0,1101.6 259.0,1100.3 258.0,1099.0 257.0,1097.7 256.0,1096.3 255.0,1095.0 254.0,1093.7 253.0,1092.4 252.0,1091.3 251.0,1090.5 250.0,1089.7 249.0,1089.0 248.0,1088.2 247.0,1087.4 246.0,1086.7 245.0,1085.9 244.0,1085.1 243.0,1084.4 242.0,1083.7 241.0,1083.1 240.0,1082.5 239.0,1081.9 238.0,1081.3 237.0,1080.7 236.0,1080.1 235.0,1079.5 234.0,1078.9 233.0,1078.2 232.0,1078.0 231.0,1077.8 230.0,1077.5 229.0,1077.3 228.0,1077.0 227.0,1076.8 226.0,1076.6 225.0,1076.3 224.0,1076.6 223.0,1077.1 222.0,1077.6 221.0,1078.1 220.0,1078.6 219.0,1079.2 218.0,1079.7 217.0,1080.2 216.0,1080.8 215.0,1081.7 214.0,1082.7 213.0,1083.6 212.0,1084.6 211.0,1085.5 210.0,1086.4 209.0,1087.4 208.0,1088.3 207.0,1089.1 206.0,1089.9 205.0,1090.7 204.0,1091.5 203.0,1092.3 202.0,1093.1 201.0,1093.9 200.0,1094.7 199.0,1094.5 198.0,1094.4 197.0,1094.2 196.0,1094.1 195.0,1094.0 194.0,1093.8 193.0,1093.7 192.0,1093.5 191.0,1093.0 190.0,1092.2 189.0,1091.4 188.0,1090.6 187.0,1089.8 186.0,1089.1 185.0,1088.3 184.0,1087.5 183.0,1086.5 182.0,1085.1 181.0,1083.8 180.0,1082.4 179.0,1081.1 178.0,1079.8 177.0,1078.4 176.0,1077.1 175.0,1075.8 174.0,1073.9 173.0,1072.0 172.0,1070.2 171.0,1068.3 170.0,1066.5 169.0,1064.6 168.0,1062.8 167.0,1060.9 166.0,1058.8 165.0,1056.7 164.0,1054.6 163.0,1052.4 162.0,1050.3 161.0,1048.1 160.0,1046.0 159.0,1043.9 158.0,1041.8 157.0,1039.8 156.0,1037.8 155.0,1035.8 154.0,1033.9 153.0,1031.9 152.0,1029.9 151.0,1027.9 150.0,1026.0 149.0,1024.3 148.0,1022.6 147.0,1020.9 146.0,1019.2 145.0,1017.4 144.0,1015.7 143.0,1014.0 142.0,1012.3 141.0,1010.0 140.0,1007.7 139.0,1005.4 138.0,1003.6 137.0,1002.1 136.0,1000.5 135.0,999.0 134.0,997.5 133.0,995.9 132.0,994.4 131.0,992.9 130.0,991.5 129.0,990.2 128.0,988.9 127.0,987.6 126.0,986.4 125.0,985.1 124.0,983.8 123.0,982.5 122.0,981.2 121.0,979.9 120.0,978.5 119.0,977.1 118.0,975.8 117.0,974.4 116.0,973.0 115.0,971.6 114.0,970.2 113.0,969.9 112.0,969.5 111.0,969.2 110.0,968.8 109.0,968.5 108.0,968.1 107.0,967.8 106.0,967.4 105.0,967.5 104.0,967.9 103.0,968.4 102.0,968.8 101.0,969.3 100.0,969.7 99.0,970.1 98.0,970.6 97.0,971.0 96.0,971.3 95.0,971.6 94.0,971.9 93.0,972.2 92.0,972.6 91.0,972.9 90.0,973.2 89.0,973.5 88.0,973.8 87.0,974.0 86.0,974.2 85.0,974.5 84.0,974.8 83.0,975.0 82.0,975.2 81.0,975.5 80.0,975.9 79.0,976.3 78.0,976.6 77.0,977.0 76.0,977.4 75.0,977.8 74.0,978.2 73.0,978.6 72.0,978.5 71.0,978.0 70.0,977.5 69.0,977.1 68.0,976.6 67.0,976.1 66.0,975.6 65.0,975.1 64.0,973.7 63.0,970.0 62.0,966.4 61.0,963.0 60.0,959.8 59.0,956.7 58.0,953.0 57.0,950.8 56.0,950.1 55.0,949.5" fill="#00f"/><polyline points="55.0,937.0 55.3,946.8 55.6,952.8 55.9,960.3 56.2,930.6 56.5,936.7 56.8,935.1 57.1,940.8 57.4,942.6 57.7,933.3 58.0,948.5 58.3,934.7 58.6,953.3 58.9,942.0 59.2,953.3 59.5,955.6 59.8,952.0 60.1,949.1 60.4,948.8 60.7,947.2 61.0,969.2 61.3,962.8 61.6,973.9 61.9,963.1 62.2,963.9 62.5,957.5 62.8,961.2 63.1,951.8 63.4,973.4 63.7,974.5 64.0,979.7 64.3,980.7 64.6,960.4 64.9,953.0 65.2,975.4 65.5,971.3 65.8,961.2 66.1,961.8 66.4,976.3 66.7,984.8 67.0,973.5 67.3,964.2 67.6,977.2 67.9,979.6 68.2,960.2 68.5,976.9 68.8,962.2 69.1,970.9 69.4,975.1 69.7,971.4 70.0,958.1 70.3,974.5 70.6,959.0 70.9,977.5 71.2,954.8 71.5,967.3 71.8,967.6 72.1,965.7 72.4,974.0 72.7,974.3 73.0,988.1 73.3,975.8 73.6,981.5 73.9,961.6 74.2,980.9 74.5,979.1 74.8,983.4 75.1,983.7 75.4,963.2 75.7,959.4 76.0,964.1 76.3,965.2 76.6,982.8 76.9,953.9 77.2,970.8 77.5,979.1 77.8,968.8 78.1,957.7 78.4,962.3 78.7,974.6 79.0,976.2 79.3,968.3 79.6,972.5 79.9,981.5 80.2,966.3 80.5,985.5 80.8,960.6 81.1,985.2 81.4,956.6 81.7,980.4 82.0,968.8 82.3,955.5 82.6,969.7 82.9,973.3 83.2,973.5 83.5,969.4 83.8,966.8 84.1,965.7 84.4,969.0 84.7,978.6 85.0,972.1 85.3,973.9 85.6,969.5 85.9,979.9 86.2,984.0 86.5,983.9 86.8,957.1 87.1,960.0 87.4,958.4 87.7,964.2 88.0,983.5 88.3,964.0 88.6,968.0 88.9,965.2 89.2,950.6 89.5,956.4 89.8,960.4 90.1,959.1 90.4,963.4 90.7,962.2 91.0,964.2 91.3,951.7 91.6,975.0 91.9,970.3 92.2,959.4 92.5,961.3 92.8,957.7 93.1,948.6 93.4,971.4 93.7,961.2 94.0,974.8 94.3,978.7 94.6,952.6 94.9,954.3 95.2,969.4 95.5,959.4 95.8,958.2 96.1,960.5 96.4,968.1 96.7,951.3 97.0,964.7 97.3,974.1 97.6,958.5 97.9,960.1 98.2,967.6 98.5,972.4 98.8,972.4 99.1,967.6 99.4,978.1 99.7,956.9 100.0,978.0 100.3,968.1 100.6,959.7 100.9,949.2 101.2,976.6 101.5,964.6 101.8,967.2 102.1,976.5 102.4,958.2 102.7,969.0 103.0,969.6 103.3,976.6 103.6,964.4 103.9,978.2 104.2,956.3 104.5,960.5 104.8,955.0 105.1,952.1 105.4,976.1 105.7,963.2 106.0,960.4 106.3,962.6 106.6,962.3 106.9,947.9 107.2,957.3 107.5,964.8 107.8,950.9 108.1,959.9 108.4,958.4 108.7,953.4 109.0,950.6 109.3,957.1 109.6,964.2 109.9,967.1 110.2,949.8 110.5,964.1 110.8,967.9 111.1,949.0 111.4,952.2 111.7,967.9 112.0,969.4 112.3,968.3 112.6,976.7 112.9,969.7 113.2,975.0 113.5,964.2 113.8,964.5 114.1,957.7 114.4,965.9 114.7,962.4 115.0,961.1 115.3,971.1 115.6,969.5 115.9,963.4 116.2,969.0 116.5,970.4 116.8,971.7 117.1,962.8 117.4,974.2 117.7,965.3 118.0,972.2 118.3,965.4 118.6,986.1 118.9,958.3 119.2,979.9 119.5,962.8 119.8,986.0 120.1,961.2 120.4,978.9 120.7,971.4 121.0,981.7 121.3,961.9 121.6,971.1 121.9,978.6 122.2,982.5 122.5,969.6 122.8,958.9 123.1,972.7 123.4,970.1 123.7,977.5 124.0,973.3 124.3,968.4 124.6,976.3 124.9,990.8 125.2,983.9 125.5,975.9 125.8,984.8 126.1,967.8 126.4,975.4 126.7,980.2 127.0,978.1 127.3,976.3 127.6,982.1 127.9,997.8 128.2,982.5 128.5,986.8 128.8,997.8 129.1,969.0 129.4,982.0 129.7,992.3 130.0,973.4 130.3,982.4 130.6,997.1 130.9,987.6 131.2,989.0 131.5,1002.5 131.8,973.5 132.1,997.7 132.4,979.0 132.7,992.9 133.0,994.9 133.3,991.7 133.6,989.1 133.9,998.2 134.2,995.5 134.5,999.1 134.8,1000.8 135.1,998.3 135.4,1007.6 135.7,991.2 136.0,980.8 136.3,981.5 136.6,994.5 136.9,986.5 137.2,994.0 137.5,998.0 137.8,1009.3 138.1,989.1 138.4,1002.2 138.7,989.3 139.0,1006.6 139.3,986.6 139.6,1013.0 139.9,999.8 140.2,1016.6 140.5,1004.9 140.8,996.7 141.1,1001.3 141.4,1000.0 141.7,1008.2 142.0,1016.3 142.3,1009.1 142.6,1005.2 142.9,1005.9 143.2,1022.6 143.5,1001.5 143.8,1015.5 144.1,1002.9 144.4,1004.1 144.7,1016.5 145.0,998.4 145.3,1025.7 145.6,1026.6 145.9,1004.9 146.2,1004.2 146.5,1012.7 146.8,1011.8 147.1,1008.8 147.4,1024.4 147.7,1031.5 148.0,1015.5 148.3,1023.0 148.6,1013.8 148.9,1017.9 149.2,1013.5 149.5,1018.0 149.8,1020.8 150.1,1016.7 150.4,1022.3 150.7,1014.7 151.0,1024.8 151.3,1007.8 151.6,1027.4 151.9,1021.8 152.2,1028.4 152.5,1023.9 152.8,1024.4 153.1,1026.4 153.4,1022.8 153.7,1026.9 154.0,1011.1 154.3,1021.5 154.6,1030.9 154.9,1017.6 155.2,1046.0 155.5,1043.2 155.8,1017.8 156.1,1046.4 156.4,1036.3 156.7,1038.2 157.0,1046.1 157.3,1029.6 157.6,1038.0 157.9,1043.4 158.2,1029.7 158.5,1034.7 158.8,1037.6 159.1,1040.9 159.4,1030.1 159.7,1038.5 160.0,1034.4 160.3,1047.6 160.6,1036.7 160.9,1048.0 161.2,1042.8 161.5,1038.9 161.8,1050.6 162.1,1049.1 162.4,1043.1 162.7,1054.0 163.0,1057.8 163.3,1033.7 163.6,1054.5 163.9,1034.4 164.2,1050.1 164.5,1056.4 164.8,1055.1 165.1,1055.1 165.4,1051.7 165.7,1057.8 166.0,1045.4 166.3,1067.5 166.6,1041.5 166.9,1054.2 167.2,1045.3 167.5,1054.7 167.8,1052.9 168.1,1050.0 168.4,1066.1 168.7,1054.8 169.0,1054.7 169.3,1059.8 169.6,1066.1 169.9,1065.1 170.2,1058.7 170.5,1064.1 170.8,1063.9 171.1,1062.9 171.4,1059.2 171.7,1066.2 172.0,1054.5 172.3,1072.3 172.6,1072.5 172.9,1065.1 173.2,1063.9 173.5,1054.6 173.8,1066.6 174.1,1075.2 174.4,1058.0 174.7,1075.0 175.0,1065.9 175.3,1084.0 175.6,1075.2 175.9,1080.8 176.2,1071.0 176.5,1071.3 176.8,1067.2 177.1,1084.3 177.4,1072.0 177.7,1075.5 178.0,1066.7 178.3,1076.5 178.6,1068.8 178.9,1077.1 179.2,1085.1 179.5,1073.1 179.8,1070.6 180.1,1079.9 180.4,1078.5 180.7,1073.7 181.0,1068.1 181.3,1080.3 181.6,1082.5 181.9,1081.9 182.2,1089.2 182.5,1083.7 182.8,1084.0 183.1,1072.8 183.4,1080.8 183.7,1081.1 184.0,1077.7 184.3,1088.0 184.6,1080.2 184.9,1087.2 185.2,1079.9 185.5,1086.8 185.8,1091.4 186.1,1087.5 186.4,1091.1 186.7,1085.3 187.0,1074.2 187.3,1091.8 187.6,1082.7 187.9,1077.6 188.2,1096.2 188.5,1085.8 188.8,1083.9 189.1,1075.8 189.4,1094.3 189.7,1085.7 190.0,1079.3 190.3,1092.1 190.6,1094.9 190.9,1093.3 191.2,1094.6 191.5,1095.6 191.8,1078.8 192.1,1080.2 192.4,1092.3 192.7,1098.5 193.0,1102.6 193.3,1080.2 193.6,1088.3 193.9,1083.6 194.2,1088.6 194.5,1083.5 194.8,1089.9 195.1,1087.9 195.4,1095.5 195.7,1089.0 196.0,1102.8 196.3,1096.8 196.6,1093.5 196.9,1086.1 197.2,1093.1 197.5,1083.7 197.8,1090.1 198.1,1085.3 198.4,1095.9 198.7,1085.9 199.0,1089.5 199.3,1096.5 199.6,1090.9 199.9,1089.0 200.2,1079.5 200.5,1090.1 200.8,1096.9 201.1,1088.0 201.4,1085.2 201.7,1092.4 202.0,1101.3 202.3,1089.3 202.6,1085.4 202.9,1081.8 203.2,1087.1 203.5,1076.1 203.8,1081.5 204.1,1080.3 204.4,1096.3 204.7,1074.4 205.0,1085.6 205.3,1080.9 205.6,1075.9 205.9,1087.8 206.2,1091.9 206.5,1081.9 206.8,1081.6 207.1,1084.1 207.4,1088.3 207.7,1085.4 208.0,1081.1 208.3,1078.9 208.6,1082.9 208.9,1073.2 209.2,1080.3 209.5,1089.3 209.8,1082.4 210.1,1079.9 210.4,1073.7 210.7,1073.3 211.0,1086.0 211.3,1079.1 211.6,1072.7 211.9,1071.2 212.2,1075.9 212.5,1089.2 212.8,1078.9 213.1,1066.4 213.4,1075.9 213.7,1079.6 214.0,1068.8 214.3,1076.6 214.6,1086.0 214.9,1071.8 215.2,1065.5 215.5,1073.1 215.8,1081.1 216.1,1069.4 216.4,1075.6 216.7,1076.4 217.0,1074.5 217.3,1074.7 217.6,1064.2 217.9,1087.0 218.2,1074.2 218.5,1083.8 218.8,1073.8 219.1,1068.7 219.4,1063.7 219.7,1066.1 220.0,1072.8 220.3,1067.9 220.6,1082.7 220.9,1072.8 221.2,1073.7 221.5,1084.3 221.8,1075.4 222.1,1059.7 222.4,1078.2 222.7,1062.3 223.0,1063.6 223.3,1078.7 223.6,1072.7 223.9,1059.4 224.2,1075.4 224.5,1084.2 224.8,1058.3 225.1,1064.6 225.4,1059.9 225.7,1070.1 226.0,1067.1 226.3,1068.2 226.6,1059.7 226.9,1072.4 227.2,1069.1 227.5,1084.5 227.8,1070.7 228.1,1061.0 228.4,1062.4 228.7,1070.5 229.0,1068.0 229.3,1067.5 229.6,1080.4 229.9,1072.7 230.2,1069.8 230.5,1065.5 230.8,1066.6 231.1,1077.4 231.4,1079.9 231.7,1078.4 232.0,1076.1 232.3,1074.6 232.6,1085.3 232.9,1080.5 233.2,1080.6 233.5,1069.2 233.8,1077.7 234.1,1072.5 234.4,1070.6 234.7,1068.5 235.0,1080.8 235.3,1079.8 235.6,1078.7 235.9,1078.2 236.2,1078.1 236.5,1079.0 236.8,1081.4 237.1,1071.1 237.4,1072.4 237.7,1074.9 238.0,1077.9 238.3,1078.8 238.6,1073.8 238.9,1068.4 239.2,1076.3 239.5,1068.1 239.8,1077.0 240.1,1083.9 240.4,1067.1 240.7,1089.0 241.0,1073.9 241.3,1065.5 241.6,1068.4 241.9,1064.4 242.2,1078.3 242.5,1078.3 242.8,1080.4 243.1,1079.9 243.4,1082.9 243.7,1076.5 244.0,1070.8 244.3,1082.0 244.6,1081.0 244.9,1085.8 245.2,1083.8 245.5,1077.9 245.8,1084.8 246.1,1074.5 246.4,1078.9 246.7,1075.3 247.0,1077.3 247.3,1072.5 247.6,1077.3 247.9,1085.3 248.2,1072.6 248.5,1088.0 248.8,1088.0 249.1,1083.9 249.4,1077.5 249.7,1092.6 250.0,1079.3 250.3,1084.2 250.6,1091.2 250.9,1078.7 251.2,1090.3 251.5,1081.1 251.8,1094.2 252.1,1083.1 252.4,1083.9 252.7,1089.8 253.0,1088.3 253.3,1083.4 253.6,1093.2 253.9,1077.1 254.2,1095.9 254.5,1097.0 254.8,1088.5 255.1,1087.0 255.4,1091.2 255.7,1077.3 256.0,1086.9 256.3,1098.4 256.6,1087.7 256.9,1094.9 257.2,1097.8 257.5,1101.3 257.8,1096.8 258.1,1093.2 258.4,1102.3 258.7,1095.8 259.0,1093.9 259.3,1108.4 259.6,1095.6 259.9,1097.7 260.2,1094.4 260.5,1103.2 260.8,1091.7 261.1,1100.7 261.4,1094.9 261.7,1111.4 262.0,1103.7 262.3,1100.0 262.6,1101.8 262.9,1096.7 263.2,1102.4 263.5,1107.2 263.8,1094.0 264.1,1093.7 264.4,1103.3 264.7,1099.2 265.0,1106.7 265.3,1102.1 265.6,1108.2 265.9,1093.5 266.2,1109.2 266.5,1109.1 266.8,1107.2 267.1,1112.4 267.4,1108.6 267.7,1096.7 268.0,1107.4 268.3,1106.3 268.6,1104.9 268.9,1119.9 269.2,1108.2 269.5,1099.8 269.8,1111.3 270.1,1113.1 270.4,1102.9 270.7,1111.5 271.0,1119.4 271.3,1119.7 271.6,1101.3 271.9,1107.1 272.2,1117.6 272.5,1110.3 272.8,1112.0 273.1,1124.1 273.4,1106.9 273.7,1114.6 274.0,1112.1 274.3,1104.3 274.6,1109.5 274.9,1115.2 275.2,1117.4 275.5,1114.7 275.8,1113.1 276.1,1118.4 276.4,1109.5 276.7,1111.1 277.0,1114.6 277.3,1119.9 277.6,1127.0 277.9,1126.9 278.2,1108.2 278.5,1112.9 278.8,1119.2 279.1,1124.5 279.4,1123.7 279.7,1127.7 280.0,1111.0 280.3,1117.2 280.6,1117.4 280.9,1119.3 281.2,1129.8 281.5,1128.2 281.8,1127.4 282.1,1121.5 282.4,1120.7 282.7,1129.5 283.0,1117.3 283.3,1130.0 283.6,1117.9 283.9,1124.9 284.2,1121.4 284.5,1127.3 284.8,1135.1 285.1,1119.1 285.4,1126.3 285.7,1130.1 286.0,1124.5 286.3,1120.9 286.6,1119.6 286.9,1128.3 287.2,1125.5 287.5,1131.2 287.8,1124.1 288.1,1116.7 288.4,1136.1 288.7,1131.0 289.0,1133.3 289.3,1131.1 289.6,1133.3 289.9,1129.7 290.2,1129.1 290.5,1136.8 290.8,1134.0 291.1,1129.2 291.4,1134.3 291.7,1127.4 292.0,1122.7 292.3,1131.5 292.6,1131.2 292.9,1122.6 293.2,1126.8 293.5,1131.2 293.8,1130.8 294.1,1124.6 294.4,1133.9 294.7,1129.0 295.0,1128.4 295.3,1135.0 295.6,1138.2 295.9,1130.0 296.2,1128.8 296.5,1137.3 296.8,1131.6 297.1,1129.7 297.4,1131.1 297.7,1126.4 298.0,1136.7 298.3,1126.7 298.6,1130.5 298.9,1133.1 299.2,1128.4 299.5,1134.3 299.8,1134.0 300.1,1138.4 300.4,1135.3 300.7,1129.1 301.0,1136.5 301.3,1136.2 301.6,1132.2 301.9,1134.0 302.2,1136.4 302.5,1135.4 302.8,1135.3 303.1,1133.7 303.4,1138.1 303.7,1131.8 304.0,1134.0 304.3,1134.7 304.6,1132.8 304.9,1137.2 305.2,1136.2 305.5,1133.0 305.8,1138.2 306.1,1131.7 306.4,1135.9 306.7,1129.3 307.0,1142.4 307.3,1131.8 307.6,1131.8 307.9,1132.0 308.2,1133.9 308.5,1137.0 308.8,1135.5 309.1,1140.4 309.4,1130.5 309.7,1137.5 310.0,1141.3 310.3,1133.2 310.6,1141.5 310.9,1132.5 311.2,1135.4 311.5,1136.6 311.8,1134.8 312.1,1133.3 312.4,1134.5 312.7,1134.0 313.0,1130.9 313.3,1132.9 313.6,1127.9 313.9,1137.4 314.2,1134.4 314.5,1132.4 314.8,1130.8 315.1,1135.6 315.4,1132.9 315.7,1137.4 316.0,1136.4 316.3,1141.6 316.6,1139.8 316.9,1137.1 317.2,1130.0 317.5,1135.3 317.8,1132.1 318.1,1127.0 318.4,1132.3 318.7,1134.5 319.0,1140.3 319.3,1145.2 319.6,1129.4 319.9,1136.3 320.2,1136.5 320.5,1142.2 320.8,1130.1 321.1,1139.7 321.4,1124.4 321.7,1131.1 322.0,1136.7 322.3,1123.7 322.6,1135.8 322.9,1132.2 323.2,1130.3 323.5,1130.5 323.8,1129.5 324.1,1138.2 324.4,1125.4 324.7,1131.2 325.0,1129.5 325.3,1132.6 325.6,1132.8 325.9,1130.9 326.2,1141.5 326.5,1125.2 326.8,1128.3 327.1,1126.7 327.4,1128.1 327.7,1124.6 328.0,1122.4 328.3,1136.9 328.6,1128.3 328.9,1127.0 329.2,1132.9 329.5,1125.7 329.8,1125.7 330.1,1132.1 330.4,1128.3 330.7,1132.0 331.0,1134.3 331.3,1115.0 331.6,1129.9 331.9,1118.8 332.2,1119.5 332.5,1127.5 332.8,1126.9 333.1,1127.6 333.4,1133.1 333.7,1126.3 334.0,1126.1 334.3,1125.1 334.6,1113.4 334.9,1127.1 335.2,1130.7 335.5,1126.1 335.8,1119.7 336.1,1126.9 336.4,1109.3 336.7,1126.0 337.0,1125.0 337.3,1119.9 337.6,1115.5 337.9,1116.4 338.2,1114.0 338.5,1128.8 338.8,1114.0 339.1,1112.4 339.4,1116.0 339.7,1123.4 340.0,1106.2 340.3,1119.3 340.6,1116.1 340.9,1124.6 341.2,1116.9 341.5,1114.0 341.8,1117.1 342.1,1125.7 342.4,1127.3 342.7,1120.9 343.0,1106.0 343.3,1117.3 343.6,1118.5 343.9,1117.2 344.2,1101.9 344.5,1114.4 344.8,1108.8 345.1,1109.4 345.4,1115.2 345.7,1112.9 346.0,1107.5 346.3,1108.3 346.6,1112.7 346.9,1113.8 347.2,1109.3 347.5,1116.8 347.8,1108.7 348.1,1112.1 348.4,1107.9 348.7,1099.0 349.0,1107.5 349.3,1104.1 349.6,1103.3 349.9,1103.1 350.2,1103.1 350.5,1108.2 350.8,1112.2 351.1,1096.5 351.4,1101.3 351.7,1108.7 352.0,1107.1 352.3,1114.8 352.6,1104.7 352.9,1113.6 353.2,1096.9 353.5,1098.7 353.8,1108.2 354.1,1104.8 354.4,1107.9 354.7,1100.1 355.0,1112.0 355.3,1111.5 355.6,1111.3 355.9,1102.0 356.2,1104.1 356.5,1114.8 356.8,1093.6 357.1,1101.2 357.4,1120.7 357.7,1096.8 358.0,1117.3 358.3,1112.1 358.6,1098.7 358.9,1108.5 359.2,1111.0 359.5,1103.1 359.8,1113.2 360.1,1108.3 360.4,1121.9 360.7,1104.9 361.0,1104.9 361.3,1109.4 361.6,1108.3 361.9,1102.8 362.2,1114.7 362.5,1103.3 362.8,1108.4 363.1,1112.0 363.4,1109.4 363.7,1116.7 364.0,1107.8 364.3,1122.2 364.6,1117.5 364.9,1104.3 365.2,1103.3 365.5,1116.4 365.8,1121.3 366.1,1116.3 366.4,1105.7 366.7,1113.1 367.0,1114.0 367.3,1128.9 367.6,1112.3 367.9,1122.6 368.2,1122.9 368.5,1123.0 368.8,1126.0 369.1,1118.8 369.4,1123.3 369.7,1132.1 370.0,1115.7 370.3,1122.0 370.6,1119.3 370.9,1118.8 371.2,1115.5 371.5,1121.9 371.8,1133.1 372.1,1120.6 372.4,1136.2 372.7,1112.8 373.0,1118.4 373.3,1121.0 373.6,1122.7 373.9,1116.9 374.2,1136.9 374.5,1119.5 374.8,1142.0 375.1,1123.1 375.4,1135.9 375.7,1140.7 376.0,1128.9 376.3,1120.0 376.6,1126.3 376.9,1141.8 377.2,1140.5 377.5,1135.1 377.8,1136.2 378.1,1140.7 378.4,1143.2 378.7,1141.2 379.0,1139.4 379.3,1140.3 379.6,1131.5 379.9,1133.1 380.2,1139.9 380.5,1142.9 380.8,1145.8 381.1,1138.6 381.4,1133.6 381.7,1152.1 382.0,1149.5 382.3,1152.1 382.6,1140.6 382.9,1152.3 383.2,1143.5 383.5,1148.9 383.8,1154.8 384.1,1146.6 384.4,1152.2 384.7,1156.0 385.0,1141.1 385.3,1144.5 385.6,1151.4 385.9,1155.3 386.2,1142.8 386.5,1156.1 386.8,1165.7 387.1,1157.4 387.4,1149.2 387.7,1156.3 388.0,1150.1 388.3,1150.7 388.6,1150.5 388.9,1147.6 389.2,1155.2 389.5,1156.1 389.8,1155.0 390.1,1163.9 390.4,1162.1 390.7,1166.5 391.0,1152.3 391.3,1172.7 391.6,1170.8 391.9,1157.9 392.2,1163.3 392.5,1160.5 392.8,1162.9 393.1,1169.0 393.4,1170.2 393.7,1158.8 394.0,1166.6 394.3,1166.8 394.6,1166.9 394.9,1158.4 395.2,1159.4 395.5,1168.2 395.8,1173.2 396.1,1162.9 396.4,1167.9 396.7,1178.0 397.0,1173.7 397.3,1170.5 397.6,1175.1 397.9,1168.6 398.2,1172.5 398.5,1171.4 398.8,1163.3 399.1,1180.3 399.4,1169.9 399.7,1172.6 400.0,1174.2 400.3,1181.5 400.6,1170.4 400.9,1167.2 401.2,1181.0 401.5,1181.3 401.8,1175.0 402.1,1181.5 402.4,1188.1 402.7,1177.0 403.0,1178.1 403.3,1179.2 403.6,1186.2 403.9,1174.8 404.2,1183.3 404.5,1177.5 404.8,1178.4 405.1,1185.5 405.4,1176.6 405.7,1184.4 406.0,1191.2 406.3,1181.2 406.6,1186.8 406.9,1184.5 407.2,1185.9 407.5,1187.3 407.8,1176.5 408.1,1185.4 408.4,1186.6 408.7,1179.3 409.0,1186.1 409.3,1182.0 409.6,1183.1 409.9,1186.6 410.2,1188.6 410.5,1177.2 410.8,1181.9 411.1,1183.4 411.4,1184.8 411.7,1187.0 412.0,1183.7 412.3,1183.8 412.6,1186.9 412.9,1190.4 413.2,1187.8 413.5,1183.2 413.8,1193.0 414.1,1185.0 414.4,1190.0 414.7,1190.1 415.0,1193.6 415.3,1188.1 415.6,1186.4 415.9,1187.6 416.2,1190.0 416.5,1184.5 416.8,1191.6 417.1,1189.4 417.4,1188.5 417.7,1191.3 418.0,1187.3 418.3,1196.0 418.6,1194.3 418.9,1199.2 419.2,1185.2 419.5,1186.0 419.8,1186.3 420.1,1187.1 420.4,1188.6 420.7,1188.2 421.0,1189.3 421.3,1193.9 421.6,1186.0 421.9,1189.7 422.2,1194.4 422.5,1185.5 422.8,1194.8 423.1,1188.7 423.4,1194.0 423.7,1190.5 424.0,1186.4 424.3,1193.4 424.6,1196.3 424.9,1193.6 425.2,1187.7 425.5,1198.0 425.8,1184.5 426.1,1200.4 426.4,1188.9 426.7,1187.0 427.0,1199.6 427.3,1193.7 427.6,1192.8 427.9,1193.2 428.2,1191.5 428.5,1193.4 428.8,1191.6 429.1,1199.8 429.4,1198.0 429.7,1201.5 430.0,1194.5 430.3,1204.4 430.6,1199.9 430.9,1196.0 431.2,1195.6 431.5,1198.3 431.8,1198.7 432.1,1197.2 432.4,1197.1 432.7,1203.9 433.0,1196.0 433.3,1191.9 433.6,1193.3 433.9,1199.5 434.2,1201.8 434.5,1206.9 434.8,1200.4 435.1,1201.6 435.4,1203.6 435.7,1198.9 436.0,1195.8 436.3,1198.1 436.6,1194.0 436.9,1194.1 437.2,1196.3 437.5,1192.5 437.8,1195.2 438.1,1205.1 438.4,1188.8 438.7,1199.0 439.0,1208.2 439.3,1195.0 439.6,1196.8 439.9,1195.7 440.2,1207.7 440.5,1204.2 440.8,1209.5 441.1,1201.0 441.4,1201.6 441.7,1203.4 442.0,1198.6 442.3,1197.2 442.6,1195.8 442.9,1203.9 443.2,1203.0 443.5,1200.5 443.8,1200.8 444.1,1207.6 444.4,1198.9 444.7,1198.6 445.0,1204.4 445.3,1200.6 445.6,1203.2 445.9,1204.9 446.2,1204.8 446.5,1204.4 446.8,1205.1 447.1,1202.2 447.4,1202.7 447.7,1198.8 448.0,1196.6 448.3,1199.0 448.6,1201.5 448.9,1198.9 449.2,1206.5 449.5,1201.0 449.8,1205.6 450.1,1201.0 450.4,1202.5 450.7,1212.5 451.0,1195.4 451.3,1205.9 451.6,1207.0 451.9,1196.2 452.2,1201.8 452.5,1193.6 452.8,1206.8 453.1,1203.5 453.4,1211.2 453.7,1198.9 454.0,1212.4 454.3,1209.8 454.6,1203.7 454.9,1198.7 455.2,1200.2 455.5,1207.0 455.8,1205.7 456.1,1200.5 456.4,1198.2 456.7,1207.8 457.0,1198.5 457.3,1204.2 457.6,1209.2 457.9,1210.6 458.2,1202.7 458.5,1215.3 458.8,1208.3 459.1,1215.4 459.4,1203.2 459.7,1206.0 460.0,1201.3 460.3,1208.2 460.6,1207.0 460.9,1212.3" fill="none" stroke="#00f" stroke-width="1.4" stroke-linejoin="round"/></g>
<line x1="57.9" y1="914.1" x2="59.2" y2="914.1" stroke="#000" stroke-width="3.0" stroke-linecap="round"/>
<line x1="57.9" y1="943.9" x2="62.0" y2="943.9" stroke="#000" stroke-width="3.0" stroke-linecap="round"/>
<line x1="57.9" y1="973.8" x2="59.2" y2="973.8" stroke="#000" stroke-width="3.0" stroke-linecap="round"/>
<line x1="57.9" y1="1003.6" x2="62.0" y2="1003.6" stroke="#000" stroke-width="3.0" stroke-linecap="round"/>
<line x1="57.9" y1="1033.4" x2="59.2" y2="1033.4" stroke="#000" stroke-width="3.0" stroke-linecap="round"/>
<line x1="57.9" y1="1063.2" x2="62.0" y2="1063.2" stroke="#000" stroke-width="3.0" stroke-linecap="round"/>
<line x1="57.9" y1="1093.1" x2="59.2" y2="1093.1" stroke="#000" stroke-width="3.0" stroke-linecap="round"/>
<line x1="57.9" y1="1122.9" x2="62.0" y2="1122.9" stroke="#000" stroke-width="3.0" stroke-linecap="round"/>
<line x1="57.9" y1="1152.7" x2="59.2" y2="1152.7" stroke="#000" stroke-width="3.0" stroke-linecap="round"/>
<line x1="57.9" y1="1182.6" x2="62.0" y2="1182.6" stroke="#000" stroke-width="3.0" stroke-linecap="round"/>
<line x1="57.9" y1="1212.4" x2="59.2" y2="1212.4" stroke="#000" stroke-width="3.0" stroke-linecap="round"/>
<line x1="85.1" y1="1239.7" x2="85.1" y2="1238.7" stroke="#000" stroke-width="3.1" stroke-linecap="round"/>
<line x1="114.1" y1="1239.7" x2="114.1" y2="1236.0" stroke="#000" stroke-width="3.1" stroke-linecap="round"/>
<line x1="143.2" y1="1239.7" x2="143.2" y2="1238.7" stroke="#000" stroke-width="3.1" stroke-linecap="round"/>
<line x1="172.2" y1="1239.7" x2="172.2" y2="1236.0" stroke="#000" stroke-width="3.1" stroke-linecap="round"/>
<line x1="201.3" y1="1239.7" x2="201.3" y2="1238.7" stroke="#000" stroke-width="3.1" stroke-linecap="round"/>
<line x1="230.3" y1="1239.7" x2="230.3" y2="1236.0" stroke="#000" stroke-width="3.1" stroke-linecap="round"/>
<line x1="259.4" y1="1239.7" x2="259.4" y2="1238.7" stroke="#000" stroke-width="3.1" stroke-linecap="round"/>
<line x1="288.5" y1="1239.7" x2="288.5" y2="1236.0" stroke="#000" stroke-width="3.1" stroke-linecap="round"/>
<line x1="317.5" y1="1239.7" x2="317.5" y2="1238.7" stroke="#000" stroke-width="3.1" stroke-linecap="round"/>
<line x1="346.6" y1="1239.7" x2="346.6" y2="1236.0" stroke="#000" stroke-width="3.1" stroke-linecap="round"/>
<line x1="375.6" y1="1239.7" x2="375.6" y2="1238.7" stroke="#000" stroke-width="3.1" stroke-linecap="round"/>
<line x1="404.7" y1="1239.7" x2="404.7" y2="1236.0" stroke="#000" stroke-width="3.1" stroke-linecap="round"/>
<line x1="433.7" y1="1239.7" x2="433.7" y2="1238.7" stroke="#000" stroke-width="3.1" stroke-linecap="round"/>
<rect x="7.5" y="882.4" width="38.5" height="58.3" fill="#000"/>
<text x="27" y="927" font-size="40" font-family="Liberation Serif, serif" fill="#fff" text-anchor="middle" textLength="17" lengthAdjust="spacingAndGlyphs" stroke="#fff" stroke-width="0.45">c</text>
<line x1="328.2" y1="903.6" x2="360.3" y2="903.6" stroke="#00f" stroke-width="2.2"/>
<text x="361.8" y="909.8" font-size="14.3" font-family="Liberation Serif, serif" fill="#000" textLength="79.5" lengthAdjust="spacingAndGlyphs">TiO<tspan dy="5.5" font-size="9">2</tspan><tspan dy="-5.5"> powder</tspan></text>
<text x="56.0" y="1266" font-size="22" font-family="Liberation Serif, serif" fill="#000" text-anchor="middle">100</text>
<text x="114.11428571428571" y="1266" font-size="22" font-family="Liberation Serif, serif" fill="#000" text-anchor="middle">200</text>
<text x="172.22857142857143" y="1266" font-size="22" font-family="Liberation Serif, serif" fill="#000" text-anchor="middle">300</text>
<text x="230.34285714285716" y="1266" font-size="22" font-family="Liberation Serif, serif" fill="#000" text-anchor="middle">400</text>
<text x="288.45714285714286" y="1266" font-size="22" font-family="Liberation Serif, serif" fill="#000" text-anchor="middle">500</text>
<text x="346.57142857142856" y="1266" font-size="22" font-family="Liberation Serif, serif" fill="#000" text-anchor="middle">600</text>
<text x="404.6857142857143" y="1266" font-size="22" font-family="Liberation Serif, serif" fill="#000" text-anchor="middle">700</text>
<text x="462.8" y="1266" font-size="22" font-family="Liberation Serif, serif" fill="#000" text-anchor="middle">800</text>
<text x="140.9" y="1315.6" font-size="30" font-family="Liberation Serif, serif" fill="#000" textLength="235.5" lengthAdjust="spacingAndGlyphs" stroke="#000" stroke-width="0.25">Raman Shift (cm<tspan dy="-12.8" font-size="17.5">-1</tspan><tspan dy="12.8">)</tspan></text>
<text transform="translate(25.0,1171.4) rotate(-90)" font-size="32" font-family="Liberation Serif, serif" textLength="179.6" lengthAdjust="spacingAndGlyphs" stroke="#000" stroke-width="0.25">Intensity (a.u.)</text>
</svg>
</body></html>
